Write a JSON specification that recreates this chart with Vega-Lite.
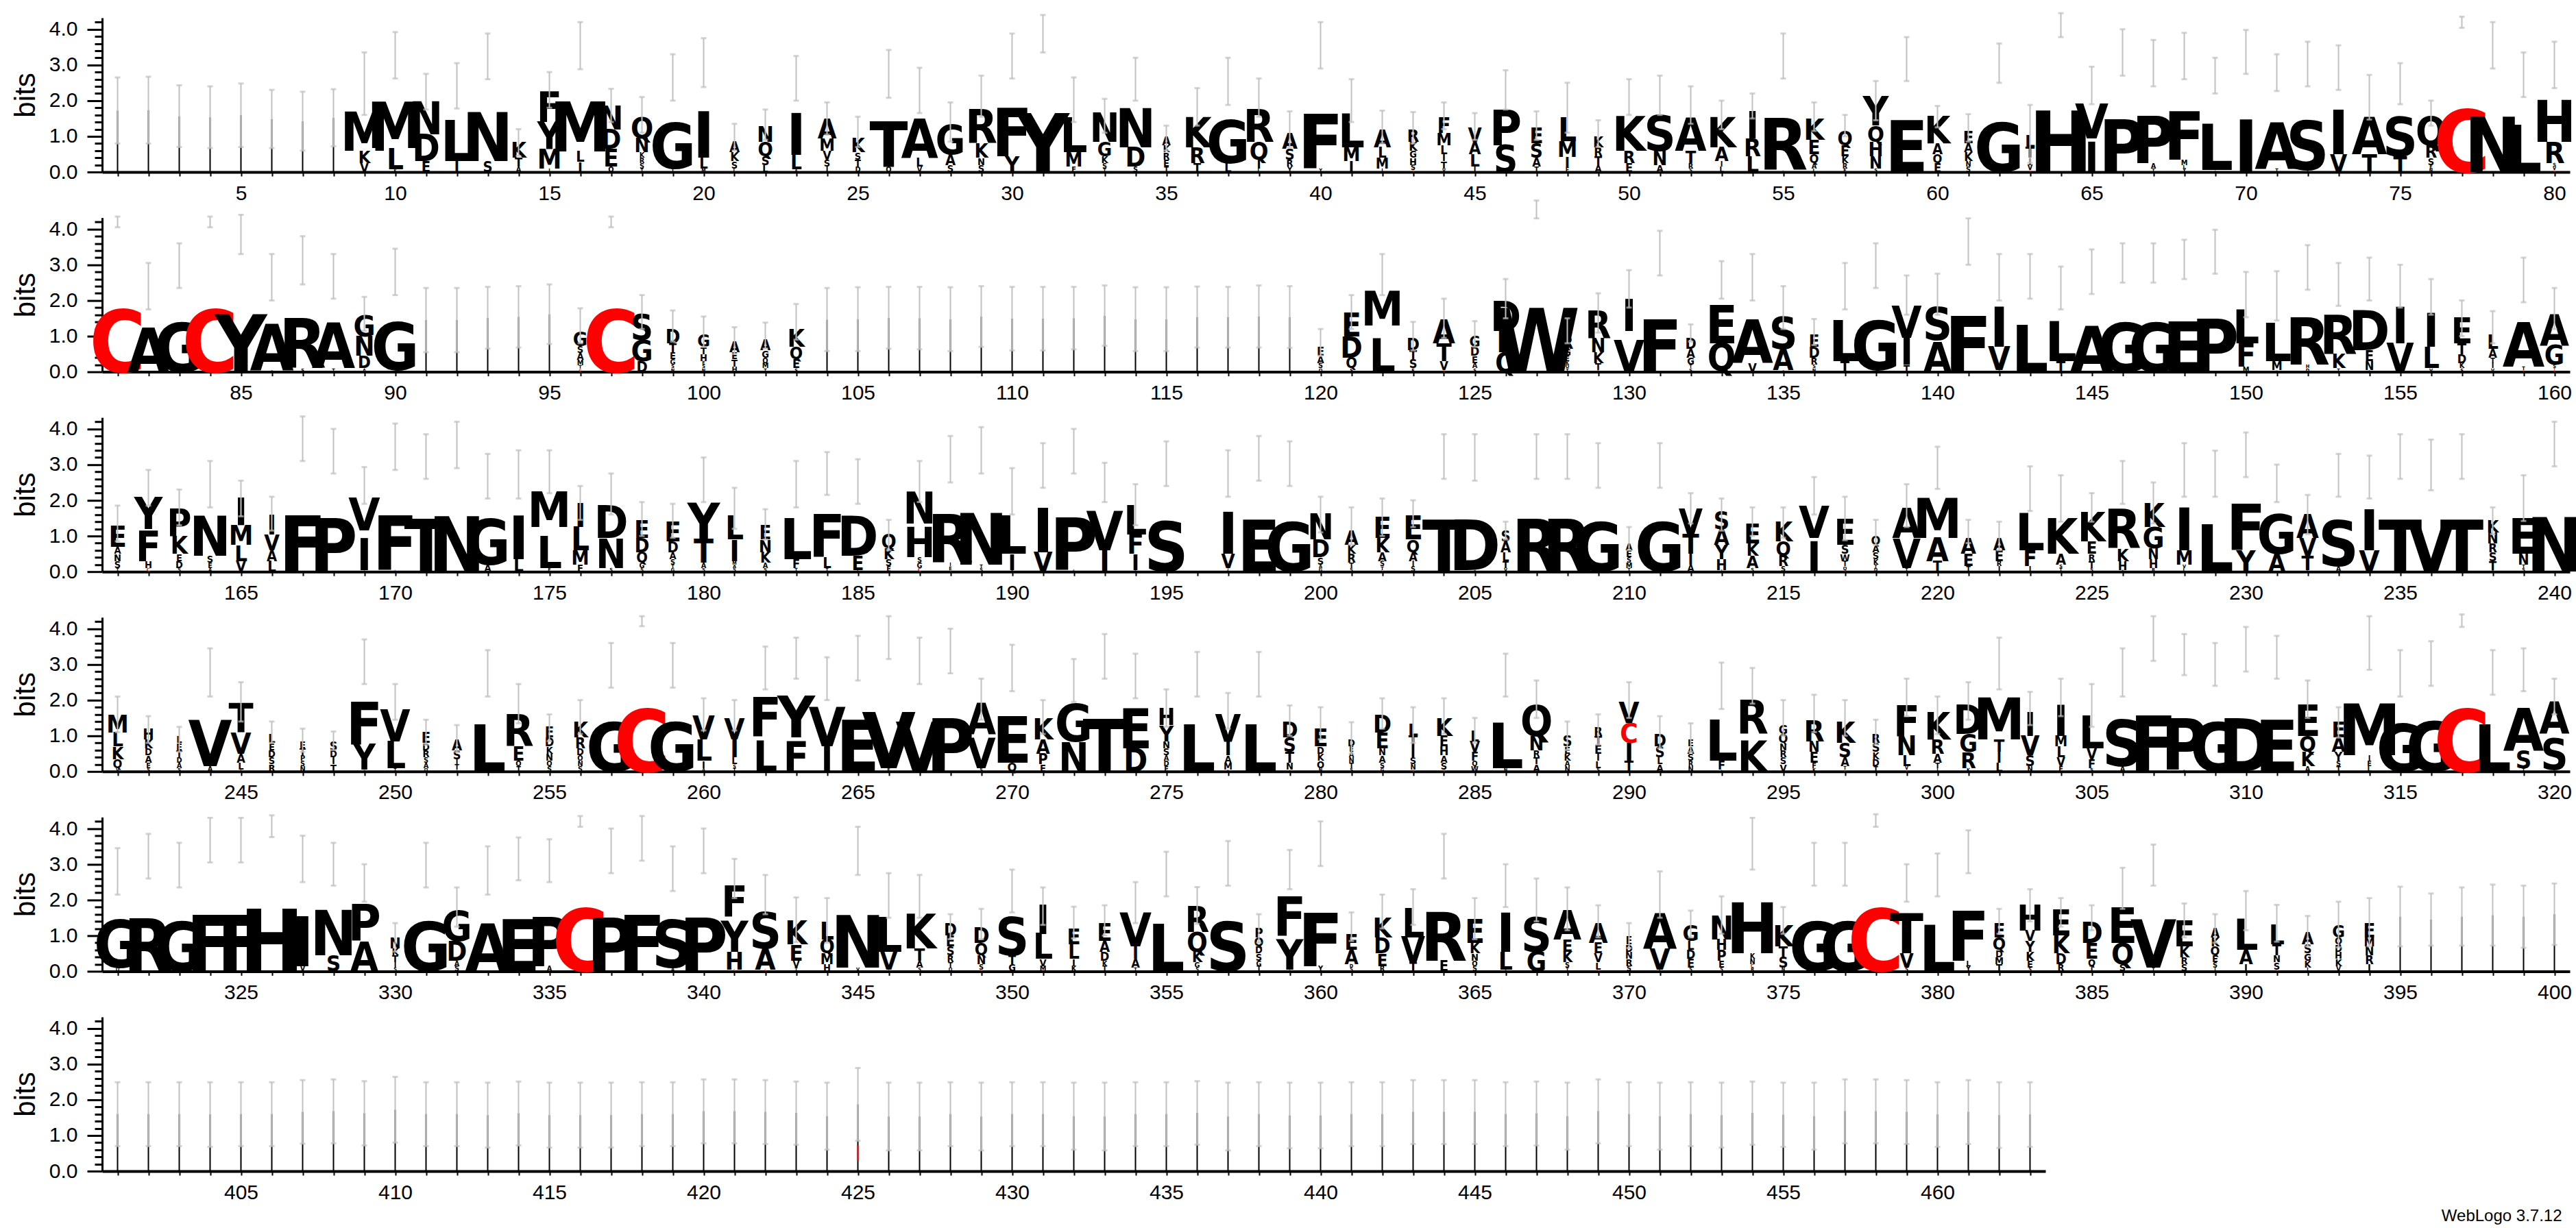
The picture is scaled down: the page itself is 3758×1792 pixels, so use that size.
{
"$schema": "https://vega.github.io/schema/vega-lite/v6.json",
"background": "white",
"padding": {"left": 16, "top": 17, "right": 5, "bottom": 5},
"config": {
  "view": {"stroke": null},
  "font": "Liberation Sans",
  "axis": {"labelColor": "black", "tickColor": "black", "domainColor": "black", "grid": false, "labelFontSize": 30, "labelFont": "Liberation Sans", "titleFont": "Liberation Sans", "titleColor": "black"},
  "axisX": {"tickSize": 6, "tickWidth": 2, "domainWidth": 4, "labelPadding": 10, "labelOverlap": false, "labelFlush": false, "labelBound": false},
  "axisY": {"titleFontSize": 42, "titleFontWeight": "normal", "titlePadding": 12, "labelPadding": 14, "tickWidth": 3, "domainWidth": 3, "labelOverlap": false}
},
"title": {"text": "WebLogo 3.7.12", "orient": "bottom", "anchor": "end", "dx": -30, "fontSize": 24, "fontWeight": "normal", "font": "Liberation Sans", "color": "black", "offset": 8},
"spacing": 66.6,
"bounds": "flush",
"datasets": {
"S": [
{"p":1,"h":1.72},{"p":2,"h":1.73},{"p":3,"h":1.56},{"p":4,"h":1.53},{"p":5,"h":1.59},{"p":6,"h":1.48},{"p":7,"h":1.42},{"p":8,"h":1.52},
{"p":91,"h":1.45},{"p":92,"h":1.45},{"p":93,"h":1.51},{"p":94,"h":1.54},{"p":95,"h":1.61},
{"p":104,"h":1.46},{"p":105,"h":1.47},{"p":106,"h":1.51},{"p":107,"h":1.5},{"p":108,"h":1.47},{"p":109,"h":1.55},{"p":110,"h":1.49},{"p":111,"h":1.49},{"p":112,"h":1.5},{"p":113,"h":1.57},{"p":114,"h":1.47},{"p":115,"h":1.47},{"p":116,"h":1.53},{"p":117,"h":1.53},{"p":118,"h":1.55},{"p":119,"h":1.53},
{"p":395,"h":1.53},{"p":396,"h":1.45},{"p":397,"h":1.53},{"p":398,"h":1.57},{"p":399,"h":1.53},{"p":400,"h":1.6},
{"p":401,"h":1.6},{"p":402,"h":1.6},{"p":403,"h":1.6},{"p":404,"h":1.59},{"p":405,"h":1.6},{"p":406,"h":1.6},{"p":407,"h":1.66},{"p":408,"h":1.68},{"p":409,"h":1.62},{"p":410,"h":1.72},
{"p":411,"h":1.6},{"p":412,"h":1.6},{"p":413,"h":1.57},{"p":414,"h":1.62},{"p":415,"h":1.57},{"p":416,"h":1.57},{"p":417,"h":1.57},{"p":418,"h":1.6},{"p":419,"h":1.6},{"p":420,"h":1.68},
{"p":421,"h":1.68},{"p":422,"h":1.66},{"p":423,"h":1.63},{"p":424,"h":1.54},{"p":425,"h":1.87},{"p":426,"h":1.53},{"p":427,"h":1.53},{"p":428,"h":1.6},{"p":429,"h":1.53},{"p":430,"h":1.6},
{"p":431,"h":1.6},{"p":432,"h":1.54},{"p":433,"h":1.53},{"p":434,"h":1.6},{"p":435,"h":1.6},{"p":436,"h":1.63},{"p":437,"h":1.53},{"p":438,"h":1.6},{"p":439,"h":1.56},{"p":440,"h":1.56},
{"p":441,"h":1.6},{"p":442,"h":1.6},{"p":443,"h":1.66},{"p":444,"h":1.66},{"p":445,"h":1.66},{"p":446,"h":1.6},{"p":447,"h":1.62},{"p":448,"h":1.54},{"p":449,"h":1.68},{"p":450,"h":1.6},
{"p":451,"h":1.54},{"p":452,"h":1.6},{"p":453,"h":1.57},{"p":454,"h":1.63},{"p":455,"h":1.58},{"p":456,"h":1.54},{"p":457,"h":1.68},{"p":458,"h":1.68},{"p":459,"h":1.66},{"p":460,"h":1.59},
{"p":461,"h":1.66},{"p":462,"h":1.57},{"p":463,"h":1.59}
],
"R": [{"p":425,"a":"C","lo":0.3,"hi":0.72}],
"E": [
{"p":1,"lo":0.8,"hi":2.65},{"p":2,"lo":0.8,"hi":2.67},{"p":3,"lo":0.7,"hi":2.43},{"p":4,"lo":0.67,"hi":2.4},{"p":5,"lo":0.7,"hi":2.48},{"p":6,"lo":0.67,"hi":2.3},{"p":7,"lo":0.6,"hi":2.25},{"p":8,"lo":0.72,"hi":2.32},
{"p":9,"lo":1.6,"hi":3.35},{"p":10,"lo":2.62,"hi":3.92},{"p":11,"lo":1.75,"hi":2.75},{"p":12,"lo":1.78,"hi":3.05},{"p":13,"lo":2.6,"hi":3.88},{"p":14,"lo":0.45,"hi":1.2},{"p":15,"lo":1.8,"hi":2.8},{"p":16,"lo":2.88,"hi":4.2},{"p":17,"lo":1.4,"hi":2.33},{"p":18,"lo":1.1,"hi":2.1},
{"p":19,"lo":2.0,"hi":3.3},{"p":20,"lo":2.38,"hi":3.75},{"p":21,"lo":0.6,"hi":1.35},{"p":22,"lo":0.9,"hi":1.75},{"p":23,"lo":2.0,"hi":3.25},{"p":24,"lo":1.05,"hi":1.95},{"p":25,"lo":0.7,"hi":1.55},{"p":26,"lo":2.08,"hi":3.42},{"p":27,"lo":1.65,"hi":2.92},{"p":28,"lo":0.85,"hi":1.95},
{"p":29,"lo":1.55,"hi":2.7},{"p":30,"lo":2.62,"hi":3.88},{"p":31,"lo":3.35,"hi":4.4},{"p":32,"lo":1.4,"hi":2.65},{"p":33,"lo":1.1,"hi":2.05},{"p":34,"lo":2.0,"hi":3.2},{"p":35,"lo":0.6,"hi":1.3},{"p":36,"lo":1.3,"hi":2.35},{"p":37,"lo":1.88,"hi":3.2},{"p":38,"lo":1.55,"hi":2.62},
{"p":39,"lo":0.7,"hi":1.7},{"p":40,"lo":2.9,"hi":4.2},{"p":41,"lo":1.4,"hi":2.6},{"p":42,"lo":0.8,"hi":1.72},{"p":43,"lo":0.8,"hi":1.68},{"p":44,"lo":1.2,"hi":1.95},{"p":45,"lo":0.9,"hi":1.65},{"p":46,"lo":1.75,"hi":2.85},{"p":47,"lo":0.9,"hi":1.7},{"p":48,"lo":1.1,"hi":2.5},
{"p":49,"lo":0.7,"hi":1.45},{"p":50,"lo":1.6,"hi":2.6},{"p":51,"lo":1.6,"hi":2.7},{"p":52,"lo":1.35,"hi":2.4},{"p":53,"lo":1.2,"hi":2.0},{"p":54,"lo":1.5,"hi":2.2},{"p":55,"lo":2.62,"hi":3.88},{"p":56,"lo":1.15,"hi":1.95},{"p":57,"lo":1.0,"hi":1.6},{"p":58,"lo":1.45,"hi":2.55},
{"p":59,"lo":2.55,"hi":3.78},{"p":60,"lo":1.25,"hi":1.85},{"p":61,"lo":0.85,"hi":1.62},{"p":62,"lo":2.5,"hi":3.6},{"p":63,"lo":0.25,"hi":1.88},{"p":64,"lo":3.78,"hi":4.45},{"p":65,"lo":1.9,"hi":2.95},{"p":66,"lo":2.7,"hi":4.0},{"p":67,"lo":2.4,"hi":3.7},{"p":68,"lo":2.6,"hi":3.9},
{"p":69,"lo":2.2,"hi":3.2},{"p":70,"lo":2.75,"hi":3.98},{"p":71,"lo":2.27,"hi":3.3},{"p":72,"lo":2.4,"hi":3.65},{"p":73,"lo":2.3,"hi":3.55},{"p":74,"lo":1.47,"hi":2.72},{"p":75,"lo":1.9,"hi":3.05},{"p":76,"lo":1.3,"hi":2.0},{"p":77,"lo":4.04,"hi":4.35},{"p":78,"lo":2.9,"hi":4.2},
{"p":79,"lo":2.1,"hi":3.35},{"p":80,"lo":2.35,"hi":3.65},
{"p":81,"lo":4.05,"hi":4.35},{"p":82,"lo":1.75,"hi":3.05},{"p":83,"lo":2.35,"hi":3.6},{"p":84,"lo":4.05,"hi":4.35},{"p":85,"lo":3.3,"hi":4.4},{"p":86,"lo":2.0,"hi":3.3},{"p":87,"lo":2.45,"hi":3.8},{"p":88,"lo":2.05,"hi":3.3},{"p":89,"lo":1.15,"hi":2.1},{"p":90,"lo":2.15,"hi":3.45},
{"p":91,"lo":0.55,"hi":2.35},{"p":92,"lo":0.55,"hi":2.35},{"p":93,"lo":0.65,"hi":2.38},{"p":94,"lo":0.68,"hi":2.4},{"p":95,"lo":0.78,"hi":2.45},{"p":96,"lo":0.8,"hi":1.78},{"p":97,"lo":4.05,"hi":4.35},{"p":98,"lo":1.2,"hi":2.15},{"p":99,"lo":0.85,"hi":1.72},{"p":100,"lo":0.7,"hi":1.55},
{"p":101,"lo":0.5,"hi":1.25},{"p":102,"lo":0.65,"hi":1.38},{"p":103,"lo":0.9,"hi":1.9},{"p":104,"lo":0.58,"hi":2.35},{"p":105,"lo":0.58,"hi":2.37},{"p":106,"lo":0.65,"hi":2.38},{"p":107,"lo":0.63,"hi":2.38},{"p":108,"lo":0.58,"hi":2.37},{"p":109,"lo":0.7,"hi":2.4},{"p":110,"lo":0.6,"hi":2.38},
{"p":111,"lo":0.6,"hi":2.38},{"p":112,"lo":0.63,"hi":2.38},{"p":113,"lo":0.73,"hi":2.42},{"p":114,"lo":0.58,"hi":2.37},{"p":115,"lo":0.58,"hi":2.37},{"p":116,"lo":0.68,"hi":2.39},{"p":117,"lo":0.68,"hi":2.38},{"p":118,"lo":0.68,"hi":2.42},{"p":119,"lo":0.67,"hi":2.4},{"p":120,"lo":0.45,"hi":1.2},
{"p":121,"lo":1.2,"hi":2.15},{"p":122,"lo":2.15,"hi":3.3},{"p":123,"lo":0.6,"hi":1.4},{"p":124,"lo":0.95,"hi":2.05},{"p":125,"lo":0.7,"hi":1.42},{"p":126,"lo":1.5,"hi":2.6},{"p":127,"lo":4.3,"hi":4.8},{"p":128,"lo":0.8,"hi":1.5},{"p":129,"lo":1.1,"hi":2.2},{"p":130,"lo":1.8,"hi":2.85},
{"p":131,"lo":2.7,"hi":3.95},{"p":132,"lo":0.85,"hi":1.33},{"p":133,"lo":2.05,"hi":3.1},{"p":134,"lo":2.0,"hi":3.3},{"p":135,"lo":1.2,"hi":2.4},{"p":136,"lo":0.75,"hi":1.48},{"p":137,"lo":1.75,"hi":3.05},{"p":138,"lo":2.35,"hi":3.6},{"p":139,"lo":1.6,"hi":2.7},{"p":140,"lo":1.6,"hi":2.75},
{"p":141,"lo":3.0,"hi":4.3},{"p":142,"lo":2.0,"hi":3.3},{"p":143,"lo":2.05,"hi":3.3},{"p":144,"lo":1.75,"hi":2.95},{"p":145,"lo":2.18,"hi":3.43},{"p":146,"lo":2.5,"hi":3.6},{"p":147,"lo":2.5,"hi":3.6},{"p":148,"lo":2.6,"hi":3.7},{"p":149,"lo":2.75,"hi":3.98},{"p":150,"lo":1.53,"hi":2.8},
{"p":151,"lo":1.44,"hi":2.82},{"p":152,"lo":2.3,"hi":3.55},{"p":153,"lo":1.85,"hi":3.05},{"p":154,"lo":2.0,"hi":3.2},{"p":155,"lo":1.8,"hi":3.0},{"p":156,"lo":1.6,"hi":2.6},{"p":157,"lo":1.0,"hi":2.0},{"p":158,"lo":0.8,"hi":1.7},{"p":159,"lo":1.95,"hi":3.2},{"p":160,"lo":1.2,"hi":2.35},
{"p":161,"lo":0.85,"hi":1.85},{"p":162,"lo":1.85,"hi":2.85},{"p":163,"lo":1.3,"hi":2.3},{"p":164,"lo":1.8,"hi":3.1},{"p":165,"lo":1.55,"hi":2.55},{"p":166,"lo":1.15,"hi":2.1},{"p":167,"lo":3.1,"hi":4.35},{"p":168,"lo":2.75,"hi":4.0},{"p":169,"lo":1.9,"hi":2.93},{"p":170,"lo":2.85,"hi":4.15},
{"p":171,"lo":2.6,"hi":3.85},{"p":172,"lo":2.9,"hi":4.2},{"p":173,"lo":2.05,"hi":3.3},{"p":174,"lo":2.05,"hi":3.4},{"p":175,"lo":2.2,"hi":3.4},{"p":176,"lo":1.45,"hi":2.4},{"p":177,"lo":1.6,"hi":2.75},{"p":178,"lo":1.0,"hi":1.95},{"p":179,"lo":0.95,"hi":1.9},{"p":180,"lo":1.95,"hi":3.2},
{"p":181,"lo":1.2,"hi":2.35},{"p":182,"lo":0.9,"hi":1.75},{"p":183,"lo":1.8,"hi":3.1},{"p":184,"lo":2.15,"hi":3.35},{"p":185,"lo":1.9,"hi":3.15},{"p":186,"lo":0.6,"hi":1.45},{"p":187,"lo":1.95,"hi":3.1},{"p":188,"lo":2.5,"hi":3.8},{"p":189,"lo":2.75,"hi":4.05},{"p":190,"lo":1.6,"hi":2.9},
{"p":191,"lo":2.35,"hi":3.6},{"p":192,"lo":2.75,"hi":4.0},{"p":193,"lo":1.95,"hi":3.05},{"p":194,"lo":1.3,"hi":2.45},{"p":195,"lo":2.4,"hi":3.65},{"p":197,"lo":2.1,"hi":3.4},{"p":198,"lo":2.55,"hi":3.8},{"p":199,"lo":2.4,"hi":3.65},{"p":200,"lo":1.1,"hi":2.1},
{"p":201,"lo":0.75,"hi":1.8},{"p":202,"lo":1.0,"hi":2.05},{"p":203,"lo":1.25,"hi":2.0},{"p":204,"lo":2.6,"hi":3.85},{"p":205,"lo":2.55,"hi":3.85},{"p":206,"lo":0.9,"hi":1.4},{"p":207,"lo":2.6,"hi":3.85},{"p":208,"lo":2.6,"hi":3.85},{"p":209,"lo":2.35,"hi":3.6},{"p":210,"lo":0.6,"hi":1.25},
{"p":211,"lo":2.35,"hi":3.6},{"p":212,"lo":1.35,"hi":2.2},{"p":213,"lo":1.15,"hi":2.05},{"p":214,"lo":1.0,"hi":1.8},{"p":215,"lo":0.95,"hi":1.8},{"p":216,"lo":1.6,"hi":2.65},{"p":217,"lo":0.88,"hi":2.1},{"p":218,"lo":0.75,"hi":1.45},{"p":219,"lo":1.25,"hi":2.45},{"p":220,"lo":2.32,"hi":3.5},
{"p":221,"lo":0.8,"hi":1.45},{"p":222,"lo":0.6,"hi":1.4},{"p":223,"lo":1.7,"hi":2.95},{"p":224,"lo":1.4,"hi":2.7},{"p":225,"lo":1.4,"hi":2.2},{"p":226,"lo":1.9,"hi":3.1},{"p":227,"lo":1.35,"hi":2.5},{"p":228,"lo":2.1,"hi":3.6},{"p":229,"lo":2.1,"hi":3.39},{"p":230,"lo":2.65,"hi":3.9},
{"p":231,"lo":1.95,"hi":3.0},{"p":232,"lo":1.05,"hi":2.15},{"p":233,"lo":2.1,"hi":3.3},{"p":234,"lo":2.05,"hi":3.25},{"p":235,"lo":2.6,"hi":3.85},{"p":236,"lo":2.28,"hi":3.7},{"p":237,"lo":2.6,"hi":3.85},{"p":238,"lo":1.05,"hi":1.8},{"p":239,"lo":1.42,"hi":2.7},{"p":240,"lo":2.95,"hi":4.2},
{"p":241,"lo":1.1,"hi":2.1},{"p":242,"lo":0.8,"hi":1.55},{"p":243,"lo":0.55,"hi":1.25},{"p":244,"lo":2.1,"hi":3.45},{"p":245,"lo":1.4,"hi":2.5},{"p":246,"lo":0.8,"hi":1.4},{"p":247,"lo":0.55,"hi":1.2},{"p":248,"lo":0.6,"hi":1.12},{"p":249,"lo":2.45,"hi":3.7},{"p":250,"lo":1.45,"hi":2.45},
{"p":251,"lo":0.75,"hi":1.45},{"p":252,"lo":0.55,"hi":1.3},{"p":253,"lo":2.1,"hi":3.4},{"p":254,"lo":1.35,"hi":2.45},{"p":255,"lo":0.85,"hi":1.6},{"p":256,"lo":1.05,"hi":2.0},{"p":257,"lo":2.35,"hi":3.6},{"p":258,"lo":4.07,"hi":4.35},{"p":259,"lo":2.35,"hi":3.6},{"p":260,"lo":1.15,"hi":2.05},
{"p":261,"lo":1.15,"hi":2.0},{"p":262,"lo":2.3,"hi":3.5},{"p":263,"lo":2.6,"hi":3.75},{"p":264,"lo":2.0,"hi":3.2},{"p":265,"lo":2.55,"hi":3.8},{"p":266,"lo":3.15,"hi":4.35},{"p":267,"lo":2.45,"hi":3.75},{"p":268,"lo":2.75,"hi":4.0},{"p":269,"lo":1.45,"hi":2.6},{"p":270,"lo":2.25,"hi":3.55},
{"p":271,"lo":1.05,"hi":2.0},{"p":272,"lo":1.95,"hi":3.15},{"p":273,"lo":2.6,"hi":3.85},{"p":274,"lo":2.05,"hi":3.3},{"p":275,"lo":1.25,"hi":2.3},{"p":276,"lo":2.1,"hi":3.35},{"p":277,"lo":1.2,"hi":2.2},{"p":278,"lo":2.1,"hi":3.35},{"p":279,"lo":1.0,"hi":1.85},{"p":280,"lo":0.9,"hi":1.8},
{"p":281,"lo":0.5,"hi":1.38},{"p":282,"lo":1.2,"hi":2.05},{"p":283,"lo":0.8,"hi":1.8},{"p":284,"lo":1.05,"hi":2.05},{"p":285,"lo":0.8,"hi":1.5},{"p":286,"lo":2.1,"hi":3.3},{"p":287,"lo":1.5,"hi":2.55},{"p":288,"lo":0.6,"hi":1.4},{"p":289,"lo":0.75,"hi":1.6},{"p":290,"lo":1.5,"hi":2.5},
{"p":291,"lo":0.65,"hi":1.55},{"p":292,"lo":0.55,"hi":1.35},{"p":293,"lo":1.75,"hi":3.05},{"p":294,"lo":1.9,"hi":2.9},{"p":295,"lo":1.0,"hi":2.0},{"p":296,"lo":1.1,"hi":2.15},{"p":297,"lo":1.0,"hi":2.0},{"p":298,"lo":0.75,"hi":1.45},{"p":299,"lo":1.55,"hi":2.6},{"p":300,"lo":1.05,"hi":2.1},
{"p":301,"lo":1.45,"hi":2.5},{"p":302,"lo":2.3,"hi":3.75},{"p":303,"lo":1.3,"hi":2.23},{"p":304,"lo":1.55,"hi":2.6},{"p":305,"lo":1.25,"hi":2.45},{"p":306,"lo":2.1,"hi":3.45},{"p":307,"lo":3.1,"hi":4.35},{"p":308,"lo":2.7,"hi":3.85},{"p":309,"lo":2.4,"hi":3.6},{"p":310,"lo":2.8,"hi":4.05},
{"p":311,"lo":2.6,"hi":3.8},{"p":312,"lo":1.5,"hi":2.55},{"p":313,"lo":0.95,"hi":1.8},{"p":314,"lo":2.85,"hi":4.35},{"p":315,"lo":2.1,"hi":3.4},{"p":316,"lo":2.4,"hi":3.65},{"p":317,"lo":4.05,"hi":4.4},{"p":318,"lo":2.15,"hi":3.4},{"p":319,"lo":2.25,"hi":3.45},{"p":320,"lo":1.6,"hi":2.6},
{"p":321,"lo":2.15,"hi":3.45},{"p":322,"lo":2.6,"hi":3.85},{"p":323,"lo":2.35,"hi":3.6},{"p":324,"lo":3.05,"hi":4.3},{"p":325,"lo":3.05,"hi":4.3},{"p":326,"lo":3.76,"hi":4.37},{"p":327,"lo":2.5,"hi":3.8},{"p":328,"lo":2.4,"hi":3.6},{"p":329,"lo":1.95,"hi":3.0},{"p":330,"lo":0.55,"hi":1.35},
{"p":331,"lo":2.35,"hi":3.6},{"p":332,"lo":1.25,"hi":2.35},{"p":333,"lo":2.15,"hi":3.5},{"p":334,"lo":2.55,"hi":3.75},{"p":335,"lo":2.5,"hi":3.7},{"p":336,"lo":4.05,"hi":4.35},{"p":337,"lo":2.75,"hi":4.0},{"p":338,"lo":3.1,"hi":4.35},{"p":339,"lo":2.25,"hi":3.5},{"p":340,"lo":2.75,"hi":4.0},
{"p":341,"lo":2.05,"hi":3.15},{"p":342,"lo":1.6,"hi":2.7},{"p":343,"lo":0.82,"hi":2.07},{"p":344,"lo":0.8,"hi":2.05},{"p":345,"lo":2.7,"hi":4.05},{"p":346,"lo":1.5,"hi":2.75},{"p":347,"lo":1.5,"hi":2.7},{"p":348,"lo":0.9,"hi":1.6},{"p":349,"lo":0.9,"hi":1.75},{"p":350,"lo":1.65,"hi":2.85},
{"p":351,"lo":1.3,"hi":2.35},{"p":352,"lo":0.92,"hi":1.81},{"p":353,"lo":1.0,"hi":1.85},{"p":354,"lo":1.35,"hi":2.5},{"p":355,"lo":2.1,"hi":3.35},{"p":356,"lo":1.33,"hi":2.36},{"p":357,"lo":2.4,"hi":3.65},{"p":358,"lo":0.8,"hi":1.6},{"p":359,"lo":2.3,"hi":3.4},{"p":360,"lo":2.95,"hi":4.2},
{"p":361,"lo":0.85,"hi":1.65},{"p":362,"lo":1.2,"hi":2.15},{"p":363,"lo":1.3,"hi":2.3},{"p":364,"lo":2.6,"hi":3.85},{"p":365,"lo":0.9,"hi":2.05},{"p":366,"lo":1.8,"hi":3.0},{"p":367,"lo":1.4,"hi":2.6},{"p":368,"lo":1.15,"hi":2.35},{"p":369,"lo":0.95,"hi":1.85},{"p":370,"lo":0.65,"hi":1.35},
{"p":371,"lo":1.5,"hi":2.8},{"p":372,"lo":0.95,"hi":1.7},{"p":373,"lo":1.05,"hi":2.1},{"p":374,"lo":2.85,"hi":4.3},{"p":375,"lo":1.05,"hi":1.8},{"p":376,"lo":2.4,"hi":3.6},{"p":377,"lo":2.4,"hi":3.6},{"p":378,"lo":4.05,"hi":4.4},{"p":379,"lo":1.95,"hi":3.0},{"p":380,"lo":2.1,"hi":3.3},
{"p":381,"lo":2.75,"hi":3.95},{"p":382,"lo":1.05,"hi":1.75},{"p":383,"lo":1.4,"hi":2.3},{"p":384,"lo":1.25,"hi":2.05},{"p":385,"lo":1.15,"hi":1.85},{"p":386,"lo":1.75,"hi":2.9},{"p":387,"lo":2.4,"hi":3.55},{"p":388,"lo":0.95,"hi":1.9},{"p":389,"lo":0.8,"hi":1.6},{"p":390,"lo":1.15,"hi":2.25},
{"p":391,"lo":0.83,"hi":1.86},{"p":392,"lo":0.7,"hi":1.55},{"p":393,"lo":0.67,"hi":1.95},{"p":394,"lo":0.7,"hi":2.05},{"p":395,"lo":0.7,"hi":2.37},{"p":396,"lo":0.72,"hi":2.18},{"p":397,"lo":0.72,"hi":2.35},{"p":398,"lo":0.72,"hi":2.43},{"p":399,"lo":0.66,"hi":2.4},{"p":400,"lo":0.74,"hi":2.46},
{"p":401,"lo":0.7,"hi":2.49},{"p":402,"lo":0.7,"hi":2.49},{"p":403,"lo":0.7,"hi":2.49},{"p":404,"lo":0.68,"hi":2.49},{"p":405,"lo":0.7,"hi":2.49},{"p":406,"lo":0.7,"hi":2.49},{"p":407,"lo":0.77,"hi":2.55},{"p":408,"lo":0.78,"hi":2.57},{"p":409,"lo":0.72,"hi":2.52},{"p":410,"lo":0.8,"hi":2.64},
{"p":411,"lo":0.7,"hi":2.49},{"p":412,"lo":0.7,"hi":2.49},{"p":413,"lo":0.66,"hi":2.48},{"p":414,"lo":0.72,"hi":2.51},{"p":415,"lo":0.66,"hi":2.48},{"p":416,"lo":0.66,"hi":2.48},{"p":417,"lo":0.66,"hi":2.48},{"p":418,"lo":0.7,"hi":2.49},{"p":419,"lo":0.7,"hi":2.49},{"p":420,"lo":0.78,"hi":2.57},
{"p":421,"lo":0.78,"hi":2.57},{"p":422,"lo":0.76,"hi":2.55},{"p":423,"lo":0.74,"hi":2.51},{"p":424,"lo":0.6,"hi":2.48},{"p":425,"lo":0.85,"hi":2.89},{"p":426,"lo":0.58,"hi":2.48},{"p":427,"lo":0.58,"hi":2.48},{"p":428,"lo":0.7,"hi":2.49},{"p":429,"lo":0.58,"hi":2.48},{"p":430,"lo":0.7,"hi":2.49},
{"p":431,"lo":0.7,"hi":2.49},{"p":432,"lo":0.6,"hi":2.48},{"p":433,"lo":0.58,"hi":2.48},{"p":434,"lo":0.7,"hi":2.49},{"p":435,"lo":0.7,"hi":2.49},{"p":436,"lo":0.74,"hi":2.52},{"p":437,"lo":0.58,"hi":2.48},{"p":438,"lo":0.7,"hi":2.49},{"p":439,"lo":0.64,"hi":2.48},{"p":440,"lo":0.64,"hi":2.48},
{"p":441,"lo":0.7,"hi":2.49},{"p":442,"lo":0.7,"hi":2.49},{"p":443,"lo":0.76,"hi":2.55},{"p":444,"lo":0.76,"hi":2.55},{"p":445,"lo":0.76,"hi":2.55},{"p":446,"lo":0.7,"hi":2.49},{"p":447,"lo":0.72,"hi":2.51},{"p":448,"lo":0.6,"hi":2.48},{"p":449,"lo":0.78,"hi":2.57},{"p":450,"lo":0.7,"hi":2.49},
{"p":451,"lo":0.6,"hi":2.48},{"p":452,"lo":0.7,"hi":2.49},{"p":453,"lo":0.66,"hi":2.48},{"p":454,"lo":0.74,"hi":2.51},{"p":455,"lo":0.68,"hi":2.48},{"p":456,"lo":0.6,"hi":2.48},{"p":457,"lo":0.78,"hi":2.57},{"p":458,"lo":0.78,"hi":2.57},{"p":459,"lo":0.76,"hi":2.55},{"p":460,"lo":0.68,"hi":2.49},
{"p":461,"lo":0.76,"hi":2.55},{"p":462,"lo":0.65,"hi":2.49},{"p":463,"lo":0.68,"hi":2.49}
],
"L": [
{"p":9,"a":"V","b":0.25},{"p":9,"a":"K","b":0.35},{"p":9,"a":"M","b":1.85},
{"p":10,"a":"K","b":0.08},{"p":10,"a":"L","b":0.6},{"p":10,"a":"M","b":2.6},
{"p":11,"a":"E","b":0.3},{"p":11,"a":"D","b":0.75},{"p":11,"a":"N","b":1.2},
{"p":12,"a":"I","b":0.3},{"p":12,"a":"L","b":2.1},
{"p":13,"a":"S","b":0.3},{"p":13,"a":"N","b":2.95},
{"p":14,"a":"A","b":0.15},{"p":14,"a":"T","b":0.25},{"p":14,"a":"K","b":0.45},
{"p":15,"a":"I","b":0.1},{"p":15,"a":"M","b":0.55},{"p":15,"a":"Y","b":0.75},{"p":15,"a":"F","b":0.9},
{"p":16,"a":"L","b":0.3},{"p":16,"a":"I","b":0.28},{"p":16,"a":"M","b":3.0},
{"p":17,"a":"Q","b":0.15},{"p":17,"a":"E","b":0.5},{"p":17,"a":"D","b":0.55},{"p":17,"a":"N","b":0.65},
{"p":18,"a":"T","b":0.1},{"p":18,"a":"S","b":0.15},{"p":18,"a":"R","b":0.15},{"p":18,"a":"K","b":0.15},{"p":18,"a":"N","b":0.4},{"p":18,"a":"Q","b":0.6},
{"p":19,"a":"T","b":0.1},{"p":19,"a":"G","b":2.55},
{"p":20,"a":"M","b":0.1},{"p":20,"a":"L","b":0.3},{"p":20,"a":"I","b":2.65},
{"p":21,"a":"L","b":0.1},{"p":21,"a":"S","b":0.2},{"p":21,"a":"K","b":0.25},{"p":21,"a":"A","b":0.3},
{"p":22,"a":"L","b":0.2},{"p":22,"a":"S","b":0.25},{"p":22,"a":"Q","b":0.4},{"p":22,"a":"N","b":0.45},
{"p":23,"a":"A","b":0.08},{"p":23,"a":"L","b":0.4},{"p":23,"a":"I","b":2.12},
{"p":24,"a":"I","b":0.15},{"p":24,"a":"V","b":0.25},{"p":24,"a":"S","b":0.2},{"p":24,"a":"M","b":0.35},{"p":24,"a":"A","b":0.55},
{"p":25,"a":"T","b":0.2},{"p":25,"a":"S","b":0.2},{"p":25,"a":"D","b":0.15},{"p":25,"a":"K","b":0.4},
{"p":26,"a":"Q","b":0.15},{"p":26,"a":"T","b":2.55},
{"p":27,"a":"V","b":0.15},{"p":27,"a":"L","b":0.25},{"p":27,"a":"A","b":1.85},
{"p":28,"a":"S","b":0.2},{"p":28,"a":"A","b":0.3},{"p":28,"a":"G","b":0.85},
{"p":29,"a":"S","b":0.2},{"p":29,"a":"N","b":0.2},{"p":29,"a":"K","b":0.4},{"p":29,"a":"R","b":1.3},
{"p":30,"a":"Y","b":0.45},{"p":30,"a":"F","b":2.8},
{"p":31,"a":"Y","b":3.95},
{"p":32,"a":"F","b":0.15},{"p":32,"a":"M","b":0.4},{"p":32,"a":"L","b":1.45},
{"p":33,"a":"T","b":0.1},{"p":33,"a":"S","b":0.15},{"p":33,"a":"K","b":0.2},{"p":33,"a":"G","b":0.4},{"p":33,"a":"N","b":0.8},
{"p":34,"a":"S","b":0.15},{"p":34,"a":"D","b":0.55},{"p":34,"a":"N","b":1.85},
{"p":35,"a":"T","b":0.15},{"p":35,"a":"E","b":0.2},{"p":35,"a":"R","b":0.2},{"p":35,"a":"K","b":0.2},{"p":35,"a":"A","b":0.25},
{"p":36,"a":"T","b":0.25},{"p":36,"a":"R","b":0.45},{"p":36,"a":"K","b":0.95},
{"p":37,"a":"L","b":0.25},{"p":37,"a":"G","b":2.3},
{"p":38,"a":"L","b":0.1},{"p":38,"a":"I","b":0.25},{"p":38,"a":"Q","b":0.5},{"p":38,"a":"R","b":1.2},
{"p":39,"a":"Y","b":0.15},{"p":39,"a":"R","b":0.2},{"p":39,"a":"S","b":0.3},{"p":39,"a":"A","b":0.45},
{"p":40,"a":"Y","b":0.1},{"p":40,"a":"F","b":3.45},
{"p":41,"a":"I","b":0.3},{"p":41,"a":"M","b":0.4},{"p":41,"a":"L","b":1.3},
{"p":42,"a":"I","b":0.1},{"p":42,"a":"M","b":0.3},{"p":42,"a":"L","b":0.3},{"p":42,"a":"A","b":0.5},
{"p":43,"a":"C","b":0.05},{"p":43,"a":"H","b":0.2},{"p":43,"a":"S","b":0.15},{"p":43,"a":"G","b":0.2},{"p":43,"a":"K","b":0.25},{"p":43,"a":"R","b":0.35},
{"p":44,"a":"V","b":0.1},{"p":44,"a":"T","b":0.2},{"p":44,"a":"L","b":0.25},{"p":44,"a":"M","b":0.35},{"p":44,"a":"I","b":0.2},{"p":44,"a":"F","b":0.45},
{"p":45,"a":"I","b":0.15},{"p":45,"a":"L","b":0.35},{"p":45,"a":"V","b":0.4},{"p":45,"a":"A","b":0.35},
{"p":46,"a":"S","b":0.75},{"p":46,"a":"P","b":1.5},
{"p":47,"a":"T","b":0.15},{"p":47,"a":"A","b":0.25},{"p":47,"a":"S","b":0.4},{"p":47,"a":"E","b":0.45},
{"p":48,"a":"F","b":0.12},{"p":48,"a":"I","b":0.3},{"p":48,"a":"M","b":0.45},{"p":48,"a":"L","b":0.65},
{"p":49,"a":"T","b":0.25},{"p":49,"a":"R","b":0.25},{"p":49,"a":"A","b":0.2},{"p":49,"a":"K","b":0.3},
{"p":50,"a":"E","b":0.25},{"p":50,"a":"R","b":0.35},{"p":50,"a":"K","b":1.45},
{"p":51,"a":"A","b":0.2},{"p":51,"a":"N","b":0.4},{"p":51,"a":"S","b":1.5},
{"p":52,"a":"S","b":0.1},{"p":52,"a":"R","b":0.15},{"p":52,"a":"T","b":0.35},{"p":52,"a":"A","b":1.25},
{"p":53,"a":"L","b":0.15},{"p":53,"a":"I","b":0.15},{"p":53,"a":"A","b":0.4},{"p":53,"a":"K","b":0.95},
{"p":54,"a":"L","b":0.45},{"p":54,"a":"R","b":0.5},{"p":54,"a":"I","b":0.75},
{"p":55,"a":"L","b":0.05},{"p":55,"a":"R","b":3.2},
{"p":56,"a":"L","b":0.1},{"p":56,"a":"A","b":0.15},{"p":56,"a":"Q","b":0.25},{"p":56,"a":"E","b":0.4},{"p":56,"a":"K","b":0.6},
{"p":57,"a":"F","b":0.1},{"p":57,"a":"K","b":0.2},{"p":57,"a":"R","b":0.15},{"p":57,"a":"E","b":0.3},{"p":57,"a":"Q","b":0.4},
{"p":58,"a":"S","b":0.1},{"p":58,"a":"N","b":0.35},{"p":58,"a":"H","b":0.4},{"p":58,"a":"Q","b":0.45},{"p":58,"a":"Y","b":0.8},
{"p":59,"a":"E","b":3.15},
{"p":60,"a":"E","b":0.25},{"p":60,"a":"Q","b":0.25},{"p":60,"a":"A","b":0.3},{"p":60,"a":"K","b":0.75},
{"p":61,"a":"S","b":0.15},{"p":61,"a":"N","b":0.15},{"p":61,"a":"K","b":0.25},{"p":61,"a":"A","b":0.25},{"p":61,"a":"E","b":0.35},
{"p":62,"a":"G","b":2.95},
{"p":63,"a":"C","b":0.05},{"p":63,"a":"V","b":0.15},{"p":63,"a":"I","b":0.2},{"p":63,"a":"T","b":0.3},{"p":63,"a":"L","b":0.35},
{"p":64,"a":"H","b":4.25},
{"p":65,"a":"I","b":0.95},{"p":65,"a":"V","b":1.45},
{"p":66,"a":"P","b":3.3},
{"p":67,"a":"T","b":0.1},{"p":67,"a":"A","b":0.15},{"p":67,"a":"P","b":2.75},
{"p":68,"a":"Y","b":0.1},{"p":68,"a":"M","b":0.15},{"p":68,"a":"L","b":0.1},{"p":68,"a":"F","b":2.85},
{"p":69,"a":"I","b":0.05},{"p":69,"a":"L","b":2.6},
{"p":70,"a":"I","b":3.3},
{"p":71,"a":"T","b":0.1},{"p":71,"a":"A","b":2.65},
{"p":72,"a":"V","b":0.05},{"p":72,"a":"S","b":2.9},
{"p":73,"a":"V","b":0.5},{"p":73,"a":"I","b":2.45},
{"p":74,"a":"T","b":0.5},{"p":74,"a":"A","b":1.65},
{"p":75,"a":"T","b":0.45},{"p":75,"a":"S","b":1.9},
{"p":76,"a":"N","b":0.1},{"p":76,"a":"E","b":0.1},{"p":76,"a":"S","b":0.2},{"p":76,"a":"R","b":0.35},{"p":76,"a":"Q","b":0.85},
{"p":77,"a":"C","b":4.3},
{"p":78,"a":"N","b":3.55},
{"p":79,"a":"L","b":2.7},
{"p":80,"a":"V","b":0.1},{"p":80,"a":"C","b":0.05},{"p":80,"a":"S","b":0.1},{"p":80,"a":"R","b":0.6},{"p":80,"a":"H","b":2.15},
{"p":81,"a":"C","b":4.3},
{"p":82,"a":"A","b":2.4},
{"p":83,"a":"G","b":2.95},
{"p":84,"a":"C","b":4.3},
{"p":85,"a":"Y","b":3.9},
{"p":86,"a":"T","b":0.05},{"p":86,"a":"A","b":2.6},
{"p":87,"a":"S","b":0.1},{"p":87,"a":"R","b":3.0},
{"p":88,"a":"T","b":0.1},{"p":88,"a":"A","b":2.55},
{"p":89,"a":"A","b":0.1},{"p":89,"a":"D","b":0.35},{"p":89,"a":"N","b":0.55},{"p":89,"a":"G","b":0.6},
{"p":90,"a":"S","b":0.05},{"p":90,"a":"G","b":2.75},
{"p":96,"a":"T","b":0.1},{"p":96,"a":"C","b":0.08},{"p":96,"a":"M","b":0.15},{"p":96,"a":"A","b":0.2},{"p":96,"a":"S","b":0.2},{"p":96,"a":"G","b":0.4},
{"p":97,"a":"C","b":4.3},
{"p":98,"a":"D","b":0.3},{"p":98,"a":"G","b":0.6},{"p":98,"a":"S","b":0.7},
{"p":99,"a":"N","b":0.1},{"p":99,"a":"S","b":0.1},{"p":99,"a":"G","b":0.15},{"p":99,"a":"E","b":0.2},{"p":99,"a":"T","b":0.25},{"p":99,"a":"D","b":0.4},
{"p":100,"a":"N","b":0.1},{"p":100,"a":"S","b":0.1},{"p":100,"a":"E","b":0.1},{"p":100,"a":"H","b":0.2},{"p":100,"a":"T","b":0.2},{"p":100,"a":"G","b":0.35},
{"p":101,"a":"T","b":0.2},{"p":101,"a":"H","b":0.15},{"p":101,"a":"E","b":0.2},{"p":101,"a":"A","b":0.3},
{"p":102,"a":"M","b":0.15},{"p":102,"a":"Q","b":0.15},{"p":102,"a":"T","b":0.1},{"p":102,"a":"G","b":0.2},{"p":102,"a":"A","b":0.3},
{"p":103,"a":"S","b":0.1},{"p":103,"a":"E","b":0.25},{"p":103,"a":"Q","b":0.35},{"p":103,"a":"K","b":0.5},
{"p":120,"a":"Q","b":0.1},{"p":120,"a":"S","b":0.15},{"p":120,"a":"A","b":0.2},{"p":120,"a":"E","b":0.25},
{"p":121,"a":"S","b":0.1},{"p":121,"a":"Q","b":0.3},{"p":121,"a":"D","b":0.6},{"p":121,"a":"E","b":0.65},
{"p":122,"a":"L","b":1.3},{"p":122,"a":"M","b":1.4},
{"p":123,"a":"E","b":0.1},{"p":123,"a":"S","b":0.25},{"p":123,"a":"T","b":0.25},{"p":123,"a":"D","b":0.35},
{"p":124,"a":"C","b":0.05},{"p":124,"a":"V","b":0.25},{"p":124,"a":"T","b":0.5},{"p":124,"a":"A","b":0.65},
{"p":125,"a":"S","b":0.1},{"p":125,"a":"A","b":0.15},{"p":125,"a":"E","b":0.2},{"p":125,"a":"D","b":0.25},{"p":125,"a":"G","b":0.3},
{"p":126,"a":"E","b":0.6},{"p":126,"a":"Q","b":0.55},{"p":126,"a":"D","b":0.9},
{"p":127,"a":"W","b":4.55},
{"p":128,"a":"T","b":0.1},{"p":128,"a":"O","b":0.1},{"p":128,"a":"K","b":0.1},{"p":128,"a":"E","b":0.15},{"p":128,"a":"G","b":0.2},{"p":128,"a":"R","b":0.35},
{"p":129,"a":"S","b":0.05},{"p":129,"a":"T","b":0.2},{"p":129,"a":"K","b":0.3},{"p":129,"a":"N","b":0.4},{"p":129,"a":"R","b":0.75},
{"p":130,"a":"V","b":1.15},{"p":130,"a":"I","b":1.15},
{"p":131,"a":"F","b":3.3},
{"p":132,"a":"S","b":0.1},{"p":132,"a":"T","b":0.1},{"p":132,"a":"G","b":0.2},{"p":132,"a":"A","b":0.25},{"p":132,"a":"D","b":0.3},
{"p":133,"a":"V","b":0.05},{"p":133,"a":"Q","b":0.75},{"p":133,"a":"E","b":1.75},
{"p":134,"a":"V","b":0.25},{"p":134,"a":"A","b":2.35},
{"p":135,"a":"T","b":0.05},{"p":135,"a":"A","b":0.6},{"p":135,"a":"S","b":1.1},
{"p":136,"a":"N","b":0.1},{"p":136,"a":"S","b":0.1},{"p":136,"a":"R","b":0.2},{"p":136,"a":"D","b":0.3},{"p":136,"a":"E","b":0.35},
{"p":137,"a":"T","b":0.3},{"p":137,"a":"L","b":2.05},
{"p":138,"a":"T","b":0.05},{"p":138,"a":"G","b":2.9},
{"p":139,"a":"T","b":0.2},{"p":139,"a":"I","b":0.75},{"p":139,"a":"V","b":1.1},
{"p":140,"a":"A","b":0.9},{"p":140,"a":"S","b":1.25},
{"p":141,"a":"F","b":3.65},
{"p":142,"a":"T","b":0.05},{"p":142,"a":"V","b":0.65},{"p":142,"a":"I","b":1.95},
{"p":143,"a":"L","b":2.7},
{"p":144,"a":"T","b":0.3},{"p":144,"a":"L","b":2.0},
{"p":145,"a":"A","b":2.6},
{"p":146,"a":"G","b":2.95},
{"p":147,"a":"G","b":2.95},
{"p":148,"a":"E","b":3.1},
{"p":149,"a":"P","b":3.35},
{"p":150,"a":"M","b":0.15},{"p":150,"a":"F","b":0.65},{"p":150,"a":"L","b":1.35},
{"p":151,"a":"N","b":0.05},{"p":151,"a":"M","b":0.25},{"p":151,"a":"L","b":1.8},
{"p":152,"a":"D","b":0.1},{"p":152,"a":"H","b":0.1},{"p":152,"a":"R","b":2.7},
{"p":153,"a":"T","b":0.1},{"p":153,"a":"K","b":0.4},{"p":153,"a":"R","b":1.9},
{"p":154,"a":"S","b":0.05},{"p":154,"a":"N","b":0.25},{"p":154,"a":"E","b":0.3},{"p":154,"a":"D","b":2.0},
{"p":155,"a":"V","b":0.8},{"p":155,"a":"I","b":1.55},
{"p":156,"a":"V","b":0.1},{"p":156,"a":"L","b":0.6},{"p":156,"a":"I","b":1.3},
{"p":157,"a":"S","b":0.1},{"p":157,"a":"K","b":0.15},{"p":157,"a":"D","b":0.25},{"p":157,"a":"T","b":0.3},{"p":157,"a":"E","b":0.7},
{"p":158,"a":"V","b":0.1},{"p":158,"a":"I","b":0.15},{"p":158,"a":"T","b":0.15},{"p":158,"a":"A","b":0.25},{"p":158,"a":"L","b":0.4},
{"p":159,"a":"C","b":0.05},{"p":159,"a":"T","b":0.1},{"p":159,"a":"A","b":2.4},
{"p":160,"a":"C","b":0.05},{"p":160,"a":"T","b":0.05},{"p":160,"a":"S","b":0.1},{"p":160,"a":"G","b":0.55},{"p":160,"a":"A","b":1.0},
{"p":161,"a":"T","b":0.1},{"p":161,"a":"S","b":0.2},{"p":161,"a":"N","b":0.2},{"p":161,"a":"A","b":0.2},{"p":161,"a":"E","b":0.6},
{"p":162,"a":"C","b":0.1},{"p":162,"a":"H","b":0.2},{"p":162,"a":"Y","b":1.1},{"p":162,"a":"F","b":0.9},
{"p":163,"a":"S","b":0.1},{"p":163,"a":"D","b":0.2},{"p":163,"a":"E","b":0.2},{"p":163,"a":"K","b":0.5},{"p":163,"a":"P","b":0.75},
{"p":164,"a":"A","b":0.1},{"p":164,"a":"E","b":0.15},{"p":164,"a":"S","b":0.2},{"p":164,"a":"N","b":1.95},
{"p":165,"a":"V","b":0.3},{"p":165,"a":"L","b":0.45},{"p":165,"a":"M","b":0.55},{"p":165,"a":"I","b":0.75},
{"p":166,"a":"L","b":0.3},{"p":166,"a":"A","b":0.3},{"p":166,"a":"V","b":0.45},{"p":166,"a":"I","b":0.55},
{"p":167,"a":"F","b":3.7},
{"p":168,"a":"P","b":3.35},
{"p":169,"a":"T","b":0.05},{"p":169,"a":"I","b":1.1},{"p":169,"a":"V","b":1.25},
{"p":170,"a":"L","b":0.05},{"p":170,"a":"F","b":3.45},
{"p":171,"a":"T","b":3.25},
{"p":172,"a":"N","b":3.55},
{"p":173,"a":"A","b":0.2},{"p":173,"a":"G","b":2.5},
{"p":174,"a":"L","b":0.35},{"p":174,"a":"I","b":2.35},
{"p":175,"a":"F","b":0.1},{"p":175,"a":"L","b":1.15},{"p":175,"a":"M","b":1.5},
{"p":176,"a":"F","b":0.2},{"p":176,"a":"M","b":0.4},{"p":176,"a":"L","b":0.65},{"p":176,"a":"I","b":0.65},
{"p":177,"a":"S","b":0.1},{"p":177,"a":"N","b":0.85},{"p":177,"a":"D","b":1.25},
{"p":178,"a":"S","b":0.1},{"p":178,"a":"G","b":0.15},{"p":178,"a":"Q","b":0.3},{"p":178,"a":"D","b":0.4},{"p":178,"a":"E","b":0.5},
{"p":179,"a":"G","b":0.1},{"p":179,"a":"T","b":0.1},{"p":179,"a":"S","b":0.15},{"p":179,"a":"A","b":0.2},{"p":179,"a":"D","b":0.3},{"p":179,"a":"E","b":0.55},
{"p":180,"a":"S","b":0.1},{"p":180,"a":"A","b":0.15},{"p":180,"a":"T","b":0.65},{"p":180,"a":"Y","b":1.6},
{"p":181,"a":"S","b":0.1},{"p":181,"a":"A","b":0.1},{"p":181,"a":"M","b":0.1},{"p":181,"a":"I","b":0.6},{"p":181,"a":"L","b":0.65},
{"p":182,"a":"S","b":0.1},{"p":182,"a":"A","b":0.15},{"p":182,"a":"K","b":0.3},{"p":182,"a":"N","b":0.35},{"p":182,"a":"E","b":0.4},
{"p":183,"a":"T","b":0.1},{"p":183,"a":"F","b":0.25},{"p":183,"a":"L","b":2.1},
{"p":184,"a":"T","b":0.1},{"p":184,"a":"L","b":0.3},{"p":184,"a":"F","b":2.3},
{"p":185,"a":"S","b":0.05},{"p":185,"a":"E","b":0.4},{"p":185,"a":"D","b":2.0},
{"p":186,"a":"S","b":0.2},{"p":186,"a":"E","b":0.15},{"p":186,"a":"K","b":0.3},{"p":186,"a":"Q","b":0.4},
{"p":187,"a":"C","b":0.1},{"p":187,"a":"G","b":0.15},{"p":187,"a":"S","b":0.15},{"p":187,"a":"H","b":0.95},{"p":187,"a":"N","b":1.1},
{"p":188,"a":"C","b":0.05},{"p":188,"a":"E","b":0.1},{"p":188,"a":"I","b":0.1},{"p":188,"a":"R","b":2.85},
{"p":189,"a":"S","b":0.1},{"p":189,"a":"T","b":0.1},{"p":189,"a":"N","b":3.2},
{"p":190,"a":"H","b":0.05},{"p":190,"a":"I","b":0.45},{"p":190,"a":"L","b":1.75},
{"p":191,"a":"V","b":0.55},{"p":191,"a":"I","b":2.4},
{"p":192,"a":"S","b":0.05},{"p":192,"a":"P","b":3.3},
{"p":193,"a":"I","b":0.6},{"p":193,"a":"V","b":1.85},
{"p":194,"a":"S","b":0.05},{"p":194,"a":"I","b":0.45},{"p":194,"a":"F","b":0.55},{"p":194,"a":"L","b":0.85},
{"p":195,"a":"S","b":3.0},
{"p":197,"a":"S","b":0.05},{"p":197,"a":"T","b":0.05},{"p":197,"a":"V","b":0.4},{"p":197,"a":"I","b":2.2},
{"p":198,"a":"E","b":3.15},
{"p":199,"a":"G","b":2.95},
{"p":200,"a":"G","b":0.1},{"p":200,"a":"A","b":0.1},{"p":200,"a":"S","b":0.2},{"p":200,"a":"D","b":0.5},{"p":200,"a":"N","b":0.7},
{"p":201,"a":"S","b":0.1},{"p":201,"a":"T","b":0.15},{"p":201,"a":"R","b":0.25},{"p":201,"a":"K","b":0.25},{"p":201,"a":"A","b":0.4},
{"p":202,"a":"C","b":0.05},{"p":202,"a":"T","b":0.1},{"p":202,"a":"S","b":0.15},{"p":202,"a":"A","b":0.25},{"p":202,"a":"K","b":0.4},{"p":202,"a":"E","b":0.6},
{"p":203,"a":"S","b":0.15},{"p":203,"a":"I","b":0.15},{"p":203,"a":"A","b":0.25},{"p":203,"a":"Q","b":0.35},{"p":203,"a":"E","b":0.65},
{"p":204,"a":"T","b":3.2},
{"p":205,"a":"N","b":0.05},{"p":205,"a":"D","b":3.1},
{"p":206,"a":"V","b":0.1},{"p":206,"a":"T","b":0.2},{"p":206,"a":"L","b":0.25},{"p":206,"a":"A","b":0.3},{"p":206,"a":"S","b":0.3},
{"p":207,"a":"R","b":3.25},
{"p":208,"a":"R","b":3.25},
{"p":209,"a":"G","b":2.95},
{"p":210,"a":"T","b":0.1},{"p":210,"a":"M","b":0.15},{"p":210,"a":"S","b":0.15},{"p":210,"a":"E","b":0.2},{"p":210,"a":"A","b":0.2},
{"p":211,"a":"G","b":2.95},
{"p":212,"a":"A","b":0.2},{"p":212,"a":"I","b":0.3},{"p":212,"a":"T","b":0.55},{"p":212,"a":"V","b":0.7},
{"p":213,"a":"T","b":0.05},{"p":213,"a":"H","b":0.3},{"p":213,"a":"Y","b":0.4},{"p":213,"a":"A","b":0.45},{"p":213,"a":"S","b":0.5},
{"p":214,"a":"S","b":0.1},{"p":214,"a":"A","b":0.35},{"p":214,"a":"K","b":0.35},{"p":214,"a":"E","b":0.55},
{"p":215,"a":"S","b":0.15},{"p":215,"a":"R","b":0.3},{"p":215,"a":"Q","b":0.4},{"p":215,"a":"K","b":0.55},
{"p":216,"a":"V","b":1.15},{"p":216,"a":"I","b":0.95},
{"p":217,"a":"C","b":0.05},{"p":217,"a":"Q","b":0.1},{"p":217,"a":"T","b":0.15},{"p":217,"a":"W","b":0.2},{"p":217,"a":"S","b":0.25},{"p":217,"a":"E","b":0.7},
{"p":218,"a":"D","b":0.1},{"p":218,"a":"T","b":0.1},{"p":218,"a":"K","b":0.15},{"p":218,"a":"S","b":0.2},{"p":218,"a":"A","b":0.2},{"p":218,"a":"Q","b":0.25},
{"p":219,"a":"T","b":0.1},{"p":219,"a":"V","b":0.85},{"p":219,"a":"A","b":0.95},
{"p":220,"a":"T","b":0.3},{"p":220,"a":"A","b":0.65},{"p":220,"a":"M","b":1.95},
{"p":221,"a":"T","b":0.15},{"p":221,"a":"E","b":0.35},{"p":221,"a":"A","b":0.45},
{"p":222,"a":"I","b":0.15},{"p":222,"a":"R","b":0.15},{"p":222,"a":"E","b":0.3},{"p":222,"a":"A","b":0.35},
{"p":223,"a":"I","b":0.15},{"p":223,"a":"F","b":0.45},{"p":223,"a":"L","b":1.7},
{"p":224,"a":"T","b":0.1},{"p":224,"a":"S","b":0.1},{"p":224,"a":"A","b":0.3},{"p":224,"a":"K","b":1.5},
{"p":225,"a":"S","b":0.1},{"p":225,"a":"T","b":0.2},{"p":225,"a":"R","b":0.2},{"p":225,"a":"E","b":0.35},{"p":225,"a":"K","b":0.8},
{"p":226,"a":"N","b":0.05},{"p":226,"a":"H","b":0.25},{"p":226,"a":"K","b":0.35},{"p":226,"a":"R","b":1.85},
{"p":227,"a":"R","b":0.1},{"p":227,"a":"H","b":0.25},{"p":227,"a":"N","b":0.3},{"p":227,"a":"G","b":0.6},{"p":227,"a":"K","b":0.65},
{"p":228,"a":"L","b":0.1},{"p":228,"a":"V","b":0.1},{"p":228,"a":"M","b":0.4},{"p":228,"a":"I","b":2.25},
{"p":229,"a":"L","b":2.75},
{"p":230,"a":"Y","b":0.6},{"p":230,"a":"F","b":2.65},
{"p":231,"a":"A","b":0.5},{"p":231,"a":"G","b":1.9},
{"p":232,"a":"S","b":0.05},{"p":232,"a":"T","b":0.4},{"p":232,"a":"V","b":0.5},{"p":232,"a":"A","b":0.65},
{"p":233,"a":"A","b":0.15},{"p":233,"a":"S","b":2.55},
{"p":234,"a":"V","b":0.6},{"p":234,"a":"I","b":2.05},
{"p":235,"a":"T","b":3.2},
{"p":236,"a":"V","b":3.0},
{"p":237,"a":"T","b":3.2},
{"p":238,"a":"H","b":0.05},{"p":238,"a":"T","b":0.25},{"p":238,"a":"S","b":0.25},{"p":238,"a":"R","b":0.25},{"p":238,"a":"N","b":0.3},{"p":238,"a":"K","b":0.35},
{"p":239,"a":"S","b":0.1},{"p":239,"a":"T","b":0.1},{"p":239,"a":"N","b":0.3},{"p":239,"a":"E","b":1.5},
{"p":240,"a":"N","b":3.5},
{"p":241,"a":"V","b":0.1},{"p":241,"a":"Q","b":0.25},{"p":241,"a":"K","b":0.35},{"p":241,"a":"L","b":0.4},{"p":241,"a":"M","b":0.5},
{"p":242,"a":"S","b":0.1},{"p":242,"a":"E","b":0.15},{"p":242,"a":"A","b":0.2},{"p":242,"a":"D","b":0.2},{"p":242,"a":"K","b":0.25},{"p":242,"a":"H","b":0.3},
{"p":243,"a":"S","b":0.1},{"p":243,"a":"A","b":0.15},{"p":243,"a":"D","b":0.15},{"p":243,"a":"T","b":0.2},{"p":243,"a":"E","b":0.2},{"p":243,"a":"L","b":0.2},
{"p":244,"a":"A","b":0.15},{"p":244,"a":"V","b":2.6},
{"p":245,"a":"S","b":0.05},{"p":245,"a":"L","b":0.2},{"p":245,"a":"A","b":0.25},{"p":245,"a":"V","b":0.6},{"p":245,"a":"T","b":0.85},
{"p":246,"a":"L","b":0.25},{"p":246,"a":"R","b":0.2},{"p":246,"a":"S","b":0.2},{"p":246,"a":"D","b":0.2},{"p":246,"a":"E","b":0.2},
{"p":247,"a":"N","b":0.15},{"p":247,"a":"S","b":0.15},{"p":247,"a":"P","b":0.15},{"p":247,"a":"T","b":0.2},{"p":247,"a":"E","b":0.2},
{"p":248,"a":"T","b":0.2},{"p":248,"a":"I","b":0.2},{"p":248,"a":"D","b":0.2},{"p":248,"a":"S","b":0.25},
{"p":249,"a":"H","b":0.05},{"p":249,"a":"Y","b":0.7},{"p":249,"a":"F","b":2.3},
{"p":250,"a":"T","b":0.1},{"p":250,"a":"L","b":0.75},{"p":250,"a":"V","b":1.1},
{"p":251,"a":"Q","b":0.1},{"p":251,"a":"A","b":0.15},{"p":251,"a":"S","b":0.15},{"p":251,"a":"R","b":0.2},{"p":251,"a":"D","b":0.2},{"p":251,"a":"E","b":0.3},
{"p":252,"a":"V","b":0.05},{"p":252,"a":"T","b":0.15},{"p":252,"a":"I","b":0.15},{"p":252,"a":"S","b":0.25},{"p":252,"a":"A","b":0.3},
{"p":253,"a":"L","b":2.7},
{"p":254,"a":"T","b":0.15},{"p":254,"a":"O","b":0.15},{"p":254,"a":"E","b":0.4},{"p":254,"a":"R","b":1.15},
{"p":255,"a":"S","b":0.15},{"p":255,"a":"Q","b":0.15},{"p":255,"a":"N","b":0.2},{"p":255,"a":"K","b":0.2},{"p":255,"a":"D","b":0.25},{"p":255,"a":"E","b":0.3},
{"p":256,"a":"S","b":0.15},{"p":256,"a":"N","b":0.15},{"p":256,"a":"O","b":0.15},{"p":256,"a":"D","b":0.2},{"p":256,"a":"R","b":0.3},{"p":256,"a":"K","b":0.45},
{"p":257,"a":"G","b":2.95},
{"p":258,"a":"C","b":4.3},
{"p":259,"a":"G","b":2.95},
{"p":260,"a":"A","b":0.1},{"p":260,"a":"I","b":0.2},{"p":260,"a":"L","b":0.6},{"p":260,"a":"V","b":0.65},
{"p":261,"a":"T","b":0.1},{"p":261,"a":"S","b":0.1},{"p":261,"a":"L","b":0.2},{"p":261,"a":"I","b":0.5},{"p":261,"a":"V","b":0.6},
{"p":262,"a":"L","b":1.0},{"p":262,"a":"F","b":1.85},
{"p":263,"a":"F","b":0.95},{"p":263,"a":"Y","b":2.2},
{"p":264,"a":"I","b":0.7},{"p":264,"a":"V","b":1.85},
{"p":265,"a":"E","b":3.15},
{"p":266,"a":"F","b":0.1},{"p":266,"a":"V","b":3.7},
{"p":267,"a":"V","b":3.05},
{"p":268,"a":"P","b":3.35},
{"p":269,"a":"S","b":0.1},{"p":269,"a":"V","b":0.95},{"p":269,"a":"A","b":1.0},
{"p":270,"a":"Q","b":0.25},{"p":270,"a":"E","b":2.65},
{"p":271,"a":"E","b":0.2},{"p":271,"a":"P","b":0.3},{"p":271,"a":"A","b":0.4},{"p":271,"a":"K","b":0.6},
{"p":272,"a":"N","b":0.85},{"p":272,"a":"G","b":1.7},
{"p":273,"a":"T","b":3.25},
{"p":274,"a":"D","b":0.65},{"p":274,"a":"E","b":1.95},
{"p":275,"a":"E","b":0.15},{"p":275,"a":"D","b":0.15},{"p":275,"a":"A","b":0.15},{"p":275,"a":"S","b":0.2},{"p":275,"a":"N","b":0.2},{"p":275,"a":"Y","b":0.45},{"p":275,"a":"H","b":0.46},
{"p":276,"a":"L","b":2.7},
{"p":277,"a":"S","b":0.05},{"p":277,"a":"M","b":0.2},{"p":277,"a":"A","b":0.2},{"p":277,"a":"I","b":0.4},{"p":277,"a":"V","b":0.75},
{"p":278,"a":"L","b":2.7},
{"p":279,"a":"I","b":0.05},{"p":279,"a":"N","b":0.2},{"p":279,"a":"T","b":0.3},{"p":279,"a":"S","b":0.4},{"p":279,"a":"D","b":0.45},
{"p":280,"a":"N","b":0.1},{"p":280,"a":"O","b":0.2},{"p":280,"a":"K","b":0.2},{"p":280,"a":"D","b":0.2},{"p":280,"a":"E","b":0.5},
{"p":281,"a":"S","b":0.1},{"p":281,"a":"T","b":0.15},{"p":281,"a":"N","b":0.15},{"p":281,"a":"A","b":0.15},{"p":281,"a":"E","b":0.15},{"p":281,"a":"D","b":0.2},
{"p":282,"a":"G","b":0.1},{"p":282,"a":"S","b":0.15},{"p":282,"a":"A","b":0.2},{"p":282,"a":"N","b":0.2},{"p":282,"a":"E","b":0.45},{"p":282,"a":"D","b":0.5},
{"p":283,"a":"C","b":0.05},{"p":283,"a":"N","b":0.15},{"p":283,"a":"S","b":0.2},{"p":283,"a":"I","b":0.3},{"p":283,"a":"T","b":0.3},{"p":283,"a":"L","b":0.35},
{"p":284,"a":"C","b":0.05},{"p":284,"a":"S","b":0.2},{"p":284,"a":"A","b":0.2},{"p":284,"a":"H","b":0.25},{"p":284,"a":"E","b":0.3},{"p":284,"a":"K","b":0.5},
{"p":285,"a":"W","b":0.15},{"p":285,"a":"Q","b":0.15},{"p":285,"a":"F","b":0.25},{"p":285,"a":"V","b":0.3},{"p":285,"a":"L","b":0.3},
{"p":286,"a":"N","b":0.1},{"p":286,"a":"L","b":2.55},
{"p":287,"a":"A","b":0.2},{"p":287,"a":"T","b":0.2},{"p":287,"a":"R","b":0.2},{"p":287,"a":"N","b":0.4},{"p":287,"a":"Q","b":1.0},
{"p":288,"a":"N","b":0.15},{"p":288,"a":"A","b":0.15},{"p":288,"a":"K","b":0.2},{"p":288,"a":"E","b":0.2},{"p":288,"a":"S","b":0.3},
{"p":289,"a":"S","b":0.1},{"p":289,"a":"L","b":0.2},{"p":289,"a":"I","b":0.2},{"p":289,"a":"E","b":0.25},{"p":289,"a":"T","b":0.25},{"p":289,"a":"R","b":0.25},
{"p":290,"a":"T","b":0.3},{"p":290,"a":"I","b":0.5},{"p":290,"a":"C","b":0.55},{"p":290,"a":"V","b":0.6},
{"p":291,"a":"A","b":0.2},{"p":291,"a":"L","b":0.2},{"p":291,"a":"S","b":0.3},{"p":291,"a":"D","b":0.35},
{"p":292,"a":"N","b":0.15},{"p":292,"a":"R","b":0.15},{"p":292,"a":"S","b":0.2},{"p":292,"a":"A","b":0.2},{"p":292,"a":"E","b":0.2},
{"p":293,"a":"A","b":0.05},{"p":293,"a":"F","b":0.25},{"p":293,"a":"L","b":2.1},
{"p":294,"a":"K","b":1.05},{"p":294,"a":"R","b":1.3},
{"p":295,"a":"V","b":0.2},{"p":295,"a":"S","b":0.2},{"p":295,"a":"R","b":0.2},{"p":295,"a":"N","b":0.2},{"p":295,"a":"Q","b":0.25},{"p":295,"a":"G","b":0.25},
{"p":296,"a":"K","b":0.1},{"p":296,"a":"F","b":0.15},{"p":296,"a":"E","b":0.3},{"p":296,"a":"N","b":0.3},{"p":296,"a":"R","b":0.6},
{"p":297,"a":"C","b":0.05},{"p":297,"a":"T","b":0.1},{"p":297,"a":"A","b":0.25},{"p":297,"a":"S","b":0.4},{"p":297,"a":"K","b":0.6},
{"p":298,"a":"T","b":0.15},{"p":298,"a":"D","b":0.2},{"p":298,"a":"K","b":0.2},{"p":298,"a":"S","b":0.25},{"p":298,"a":"R","b":0.25},
{"p":299,"a":"C","b":0.05},{"p":299,"a":"V","b":0.1},{"p":299,"a":"L","b":0.3},{"p":299,"a":"N","b":0.55},{"p":299,"a":"F","b":1.05},
{"p":300,"a":"I","b":0.1},{"p":300,"a":"T","b":0.15},{"p":300,"a":"A","b":0.25},{"p":300,"a":"R","b":0.4},{"p":300,"a":"K","b":0.75},
{"p":301,"a":"K","b":0.1},{"p":301,"a":"R","b":0.45},{"p":301,"a":"G","b":0.5},{"p":301,"a":"D","b":0.85},
{"p":302,"a":"L","b":0.25},{"p":302,"a":"I","b":0.3},{"p":302,"a":"T","b":0.35},{"p":302,"a":"M","b":2.15},
{"p":303,"a":"N","b":0.15},{"p":303,"a":"S","b":0.3},{"p":303,"a":"V","b":0.55},{"p":303,"a":"I","b":0.65},
{"p":304,"a":"F","b":0.15},{"p":304,"a":"V","b":0.25},{"p":304,"a":"L","b":0.3},{"p":304,"a":"M","b":0.3},{"p":304,"a":"I","b":1.05},
{"p":305,"a":"S","b":0.1},{"p":305,"a":"F","b":0.25},{"p":305,"a":"V","b":0.3},{"p":305,"a":"L","b":1.2},
{"p":306,"a":"A","b":0.15},{"p":306,"a":"S","b":2.6},
{"p":307,"a":"F","b":3.7},
{"p":308,"a":"S","b":0.05},{"p":308,"a":"P","b":3.2},
{"p":309,"a":"G","b":2.95},
{"p":310,"a":"D","b":3.4},
{"p":311,"a":"E","b":3.2},
{"p":312,"a":"A","b":0.15},{"p":312,"a":"K","b":0.4},{"p":312,"a":"Q","b":0.45},{"p":312,"a":"E","b":1.0},
{"p":313,"a":"T","b":0.15},{"p":313,"a":"S","b":0.15},{"p":313,"a":"Y","b":0.25},{"p":313,"a":"A","b":0.4},{"p":313,"a":"E","b":0.45},
{"p":314,"a":"L","b":0.15},{"p":314,"a":"E","b":0.15},{"p":314,"a":"I","b":0.15},{"p":314,"a":"M","b":3.15},
{"p":315,"a":"G","b":2.7},
{"p":316,"a":"G","b":3.0},
{"p":317,"a":"C","b":4.3},
{"p":318,"a":"L","b":2.75},
{"p":319,"a":"T","b":0.1},{"p":319,"a":"S","b":0.5},{"p":319,"a":"A","b":2.25},
{"p":320,"a":"T","b":0.05},{"p":320,"a":"S","b":1.0},{"p":320,"a":"A","b":1.1},
{"p":321,"a":"O","b":0.1},{"p":321,"a":"G","b":2.7},
{"p":322,"a":"R","b":3.25},
{"p":323,"a":"G","b":2.95},
{"p":324,"a":"F","b":3.7},
{"p":325,"a":"F","b":3.7},
{"p":326,"a":"H","b":4.3},
{"p":327,"a":"V","b":0.15},{"p":327,"a":"I","b":3.0},
{"p":328,"a":"S","b":0.45},{"p":328,"a":"N","b":2.5},
{"p":329,"a":"A","b":0.85},{"p":329,"a":"P","b":1.6},
{"p":330,"a":"S","b":0.1},{"p":330,"a":"I","b":0.15},{"p":330,"a":"T","b":0.2},{"p":330,"a":"K","b":0.2},{"p":330,"a":"N","b":0.3},
{"p":331,"a":"G","b":2.95},
{"p":332,"a":"S","b":0.15},{"p":332,"a":"A","b":0.15},{"p":332,"a":"D","b":0.55},{"p":332,"a":"G","b":0.9},
{"p":333,"a":"A","b":2.75},
{"p":334,"a":"E","b":3.15},
{"p":335,"a":"A","b":0.15},{"p":335,"a":"P","b":2.95},
{"p":336,"a":"C","b":4.3},
{"p":337,"a":"P","b":3.4},
{"p":338,"a":"F","b":3.7},
{"p":339,"a":"A","b":0.1},{"p":339,"a":"S","b":2.75},
{"p":340,"a":"P","b":3.4},
{"p":341,"a":"C","b":0.05},{"p":341,"a":"H","b":0.5},{"p":341,"a":"Y","b":1.0},{"p":341,"a":"F","b":1.05},
{"p":342,"a":"C","b":0.05},{"p":342,"a":"A","b":0.6},{"p":342,"a":"S","b":1.55},
{"p":343,"a":"T","b":0.1},{"p":343,"a":"V","b":0.2},{"p":343,"a":"E","b":0.45},{"p":343,"a":"K","b":0.65},
{"p":344,"a":"H","b":0.2},{"p":344,"a":"M","b":0.3},{"p":344,"a":"Q","b":0.4},{"p":344,"a":"L","b":0.5},
{"p":345,"a":"V","b":0.1},{"p":345,"a":"N","b":3.3},
{"p":346,"a":"I","b":0.05},{"p":346,"a":"V","b":0.5},{"p":346,"a":"L","b":1.45},
{"p":347,"a":"S","b":0.1},{"p":347,"a":"A","b":0.2},{"p":347,"a":"T","b":0.35},{"p":347,"a":"K","b":1.45},
{"p":348,"a":"Q","b":0.1},{"p":348,"a":"T","b":0.15},{"p":348,"a":"R","b":0.2},{"p":348,"a":"S","b":0.25},{"p":348,"a":"E","b":0.3},{"p":348,"a":"D","b":0.35},
{"p":349,"a":"C","b":0.05},{"p":349,"a":"S","b":0.15},{"p":349,"a":"N","b":0.25},{"p":349,"a":"Q","b":0.35},{"p":349,"a":"D","b":0.45},
{"p":350,"a":"G","b":0.2},{"p":350,"a":"T","b":0.25},{"p":350,"a":"S","b":1.75},
{"p":351,"a":"M","b":0.15},{"p":351,"a":"V","b":0.2},{"p":351,"a":"L","b":0.7},{"p":351,"a":"I","b":0.8},
{"p":352,"a":"K","b":0.15},{"p":352,"a":"I","b":0.2},{"p":352,"a":"L","b":0.4},{"p":352,"a":"E","b":0.45},
{"p":353,"a":"T","b":0.15},{"p":353,"a":"K","b":0.15},{"p":353,"a":"D","b":0.25},{"p":353,"a":"A","b":0.3},{"p":353,"a":"E","b":0.5},
{"p":354,"a":"T","b":0.1},{"p":354,"a":"A","b":0.25},{"p":354,"a":"I","b":0.35},{"p":354,"a":"V","b":1.3},
{"p":355,"a":"L","b":2.7},
{"p":356,"a":"S","b":0.1},{"p":356,"a":"G","b":0.15},{"p":356,"a":"K","b":0.3},{"p":356,"a":"Q","b":0.55},{"p":356,"a":"R","b":0.7},
{"p":357,"a":"S","b":2.95},
{"p":358,"a":"T","b":0.15},{"p":358,"a":"G","b":0.15},{"p":358,"a":"S","b":0.2},{"p":358,"a":"D","b":0.2},{"p":358,"a":"Q","b":0.25},{"p":358,"a":"P","b":0.26},
{"p":359,"a":"I","b":0.05},{"p":359,"a":"Y","b":0.95},{"p":359,"a":"F","b":1.85},
{"p":360,"a":"Y","b":0.15},{"p":360,"a":"F","b":3.4},
{"p":361,"a":"S","b":0.1},{"p":361,"a":"D","b":0.1},{"p":361,"a":"A","b":0.4},{"p":361,"a":"E","b":0.45},
{"p":362,"a":"R","b":0.15},{"p":362,"a":"E","b":0.35},{"p":362,"a":"D","b":0.45},{"p":362,"a":"K","b":0.55},
{"p":363,"a":"T","b":0.25},{"p":363,"a":"V","b":0.7},{"p":363,"a":"L","b":0.8},
{"p":364,"a":"E","b":0.3},{"p":364,"a":"R","b":2.9},
{"p":365,"a":"S","b":0.15},{"p":365,"a":"O","b":0.15},{"p":365,"a":"N","b":0.2},{"p":365,"a":"K","b":0.3},{"p":365,"a":"E","b":0.65},
{"p":366,"a":"A","b":0.05},{"p":366,"a":"L","b":0.5},{"p":366,"a":"I","b":1.85},
{"p":367,"a":"G","b":0.55},{"p":367,"a":"S","b":1.4},
{"p":368,"a":"T","b":0.1},{"p":368,"a":"S","b":0.15},{"p":368,"a":"K","b":0.3},{"p":368,"a":"E","b":0.35},{"p":368,"a":"A","b":0.85},
{"p":369,"a":"C","b":0.05},{"p":369,"a":"L","b":0.2},{"p":369,"a":"V","b":0.25},{"p":369,"a":"E","b":0.3},{"p":369,"a":"A","b":0.55},
{"p":370,"a":"S","b":0.15},{"p":370,"a":"R","b":0.2},{"p":370,"a":"N","b":0.2},{"p":370,"a":"D","b":0.2},{"p":370,"a":"E","b":0.21},
{"p":371,"a":"S","b":0.05},{"p":371,"a":"V","b":0.6},{"p":371,"a":"A","b":1.5},
{"p":372,"a":"S","b":0.1},{"p":372,"a":"E","b":0.25},{"p":372,"a":"D","b":0.25},{"p":372,"a":"L","b":0.25},{"p":372,"a":"G","b":0.45},
{"p":373,"a":"S","b":0.1},{"p":373,"a":"E","b":0.2},{"p":373,"a":"P","b":0.3},{"p":373,"a":"H","b":0.3},{"p":373,"a":"N","b":0.65},
{"p":374,"a":"R","b":0.1},{"p":374,"a":"C","b":0.1},{"p":374,"a":"N","b":0.15},{"p":374,"a":"K","b":0.15},{"p":374,"a":"H","b":3.1},
{"p":375,"a":"N","b":0.1},{"p":375,"a":"S","b":0.3},{"p":375,"a":"T","b":0.3},{"p":375,"a":"K","b":0.6},
{"p":376,"a":"G","b":2.95},
{"p":377,"a":"G","b":2.95},
{"p":378,"a":"C","b":4.3},
{"p":379,"a":"S","b":0.1},{"p":379,"a":"V","b":0.4},{"p":379,"a":"T","b":1.95},
{"p":380,"a":"L","b":2.65},
{"p":381,"a":"Y","b":0.15},{"p":381,"a":"L","b":0.15},{"p":381,"a":"F","b":3.05},
{"p":382,"a":"T","b":0.2},{"p":382,"a":"M","b":0.2},{"p":382,"a":"D","b":0.2},{"p":382,"a":"Q","b":0.35},{"p":382,"a":"E","b":0.4},
{"p":383,"a":"S","b":0.1},{"p":383,"a":"E","b":0.2},{"p":383,"a":"K","b":0.25},{"p":383,"a":"Y","b":0.3},{"p":383,"a":"V","b":0.3},{"p":383,"a":"H","b":0.7},
{"p":384,"a":"R","b":0.2},{"p":384,"a":"D","b":0.3},{"p":384,"a":"K","b":0.5},{"p":384,"a":"E","b":0.7},
{"p":385,"a":"T","b":0.15},{"p":385,"a":"Q","b":0.2},{"p":385,"a":"E","b":0.45},{"p":385,"a":"D","b":0.6},
{"p":386,"a":"S","b":0.2},{"p":386,"a":"Q","b":0.6},{"p":386,"a":"E","b":1.5},
{"p":387,"a":"T","b":0.1},{"p":387,"a":"V","b":2.85},
{"p":388,"a":"S","b":0.2},{"p":388,"a":"R","b":0.2},{"p":388,"a":"K","b":0.3},{"p":388,"a":"E","b":0.7},
{"p":389,"a":"I","b":0.1},{"p":389,"a":"S","b":0.15},{"p":389,"a":"E","b":0.2},{"p":389,"a":"Q","b":0.25},{"p":389,"a":"K","b":0.25},{"p":389,"a":"A","b":0.26},
{"p":390,"a":"I","b":0.2},{"p":390,"a":"A","b":0.4},{"p":390,"a":"L","b":1.05},
{"p":391,"a":"C","b":0.05},{"p":391,"a":"S","b":0.2},{"p":391,"a":"N","b":0.2},{"p":391,"a":"T","b":0.3},{"p":391,"a":"L","b":0.55},
{"p":392,"a":"I","b":0.1},{"p":392,"a":"K","b":0.2},{"p":392,"a":"G","b":0.2},{"p":392,"a":"S","b":0.25},{"p":392,"a":"A","b":0.35},
{"p":393,"a":"V","b":0.15},{"p":393,"a":"K","b":0.2},{"p":393,"a":"H","b":0.2},{"p":393,"a":"D","b":0.2},{"p":393,"a":"Q","b":0.2},{"p":393,"a":"G","b":0.35},
{"p":394,"a":"I","b":0.2},{"p":394,"a":"R","b":0.25},{"p":394,"a":"N","b":0.25},{"p":394,"a":"M","b":0.25},{"p":394,"a":"E","b":0.4}
]
},
"vconcat": [
{"width": 3600, "height": 225, "layer": [
 {"data": {"name": "S"}, "transform": [{"filter": "datum.p >= 1 && datum.p <= 80"}],
  "mark": {"type": "rule", "color": "black", "strokeWidth": 2},
  "encoding": {
   "x": {"field": "p", "type": "quantitative", "scale": {"domain": [0.5, 80.5], "nice": false, "zero": false}, "axis": {"title": null, "tickCount": 80, "format": "d", "labelExpr": "datum.value % 5 === 0 ? datum.label : ''"}},
   "y": {"field": "h", "type": "quantitative", "scale": {"domain": [0, 4.32], "nice": false, "zero": false}, "axis": {"title": "bits", "values": [0,0.2,0.4,0.6,0.8,1,1.2,1.4,1.6,1.8,2,2.2,2.4,2.6,2.8,3,3.2,3.4,3.6,3.8,4,4.2], "labelExpr": "datum.value % 1 === 0 ? format(datum.value, '.1f') : ''", "tickSize": {"condition": {"test": "datum.value % 1 === 0", "value": 22}, "value": 11}}},
   "y2": {"datum": 0}}},
 {"data": {"name": "L"}, "transform": [{"filter": "datum.p >= 1 && datum.p <= 80"}, {"stack": "b", "groupby": ["p"], "sort": [{"field": "b", "order": "ascending"}], "as": ["y0", "y1"]}],
  "mark": {"type": "text", "baseline": "alphabetic", "align": "center", "font": "Liberation Sans Narrow, DejaVu Sans Condensed, Liberation Sans", "fontWeight": "bold"},
  "encoding": {
   "x": {"field": "p", "type": "quantitative", "scale": {"domain": [0.5, 80.5], "nice": false, "zero": false}, "axis": {"title": null, "tickCount": 80, "format": "d", "labelExpr": "datum.value % 5 === 0 ? datum.label : ''"}},
   "y": {"field": "y0", "type": "quantitative", "scale": {"domain": [0, 4.32], "nice": false, "zero": false}, "axis": {"title": "bits", "values": [0,0.2,0.4,0.6,0.8,1,1.2,1.4,1.6,1.8,2,2.2,2.4,2.6,2.8,3,3.2,3.4,3.6,3.8,4,4.2], "labelExpr": "datum.value % 1 === 0 ? format(datum.value, '.1f') : ''", "tickSize": {"condition": {"test": "datum.value % 1 === 0", "value": 22}, "value": 11}}},
   "text": {"field": "a"},
   "size": {"field": "b", "type": "quantitative", "scale": {"domain": [0, 0.8, 4.5], "range": [0, 58, 128], "clamp": true}, "legend": null},
   "color": {"condition": {"test": "datum.a === 'C'", "value": "red"}, "value": "black"}}},
 {"data": {"name": "E"}, "transform": [{"filter": "datum.p >= 1 && datum.p <= 80"}],
  "mark": {"type": "rule", "color": "#c0c0c0", "strokeWidth": 2},
  "encoding": {
   "x": {"field": "p", "type": "quantitative", "scale": {"domain": [0.5, 80.5], "nice": false, "zero": false}, "axis": {"title": null, "tickCount": 80, "format": "d", "labelExpr": "datum.value % 5 === 0 ? datum.label : ''"}},
   "y": {"field": "lo", "type": "quantitative", "scale": {"domain": [0, 4.32], "nice": false, "zero": false}, "axis": {"title": "bits", "values": [0,0.2,0.4,0.6,0.8,1,1.2,1.4,1.6,1.8,2,2.2,2.4,2.6,2.8,3,3.2,3.4,3.6,3.8,4,4.2], "labelExpr": "datum.value % 1 === 0 ? format(datum.value, '.1f') : ''", "tickSize": {"condition": {"test": "datum.value % 1 === 0", "value": 22}, "value": 11}}},
   "y2": {"field": "hi"}}},
 {"data": {"name": "E"}, "transform": [{"filter": "datum.p >= 1 && datum.p <= 80"}, {"fold": ["lo", "hi"], "as": ["k", "v"]}],
  "mark": {"type": "tick", "orient": "horizontal", "color": "#c0c0c0", "size": 8, "thickness": 3},
  "encoding": {
   "x": {"field": "p", "type": "quantitative", "scale": {"domain": [0.5, 80.5], "nice": false, "zero": false}, "axis": {"title": null, "tickCount": 80, "format": "d", "labelExpr": "datum.value % 5 === 0 ? datum.label : ''"}},
   "y": {"field": "v", "type": "quantitative", "scale": {"domain": [0, 4.32], "nice": false, "zero": false}, "axis": {"title": "bits", "values": [0,0.2,0.4,0.6,0.8,1,1.2,1.4,1.6,1.8,2,2.2,2.4,2.6,2.8,3,3.2,3.4,3.6,3.8,4,4.2], "labelExpr": "datum.value % 1 === 0 ? format(datum.value, '.1f') : ''", "tickSize": {"condition": {"test": "datum.value % 1 === 0", "value": 22}, "value": 11}}}}}
]},
{"width": 3600, "height": 225, "layer": [
 {"data": {"name": "S"}, "transform": [{"filter": "datum.p >= 81 && datum.p <= 160"}],
  "mark": {"type": "rule", "color": "black", "strokeWidth": 2},
  "encoding": {
   "x": {"field": "p", "type": "quantitative", "scale": {"domain": [80.5, 160.5], "nice": false, "zero": false}, "axis": {"title": null, "tickCount": 80, "format": "d", "labelExpr": "datum.value % 5 === 0 ? datum.label : ''"}},
   "y": {"field": "h", "type": "quantitative", "scale": {"domain": [0, 4.32], "nice": false, "zero": false}, "axis": {"title": "bits", "values": [0,0.2,0.4,0.6,0.8,1,1.2,1.4,1.6,1.8,2,2.2,2.4,2.6,2.8,3,3.2,3.4,3.6,3.8,4,4.2], "labelExpr": "datum.value % 1 === 0 ? format(datum.value, '.1f') : ''", "tickSize": {"condition": {"test": "datum.value % 1 === 0", "value": 22}, "value": 11}}},
   "y2": {"datum": 0}}},
 {"data": {"name": "L"}, "transform": [{"filter": "datum.p >= 81 && datum.p <= 160"}, {"stack": "b", "groupby": ["p"], "sort": [{"field": "b", "order": "ascending"}], "as": ["y0", "y1"]}],
  "mark": {"type": "text", "baseline": "alphabetic", "align": "center", "font": "Liberation Sans Narrow, DejaVu Sans Condensed, Liberation Sans", "fontWeight": "bold"},
  "encoding": {
   "x": {"field": "p", "type": "quantitative", "scale": {"domain": [80.5, 160.5], "nice": false, "zero": false}, "axis": {"title": null, "tickCount": 80, "format": "d", "labelExpr": "datum.value % 5 === 0 ? datum.label : ''"}},
   "y": {"field": "y0", "type": "quantitative", "scale": {"domain": [0, 4.32], "nice": false, "zero": false}, "axis": {"title": "bits", "values": [0,0.2,0.4,0.6,0.8,1,1.2,1.4,1.6,1.8,2,2.2,2.4,2.6,2.8,3,3.2,3.4,3.6,3.8,4,4.2], "labelExpr": "datum.value % 1 === 0 ? format(datum.value, '.1f') : ''", "tickSize": {"condition": {"test": "datum.value % 1 === 0", "value": 22}, "value": 11}}},
   "text": {"field": "a"},
   "size": {"field": "b", "type": "quantitative", "scale": {"domain": [0, 0.8, 4.5], "range": [0, 58, 128], "clamp": true}, "legend": null},
   "color": {"condition": {"test": "datum.a === 'C'", "value": "red"}, "value": "black"}}},
 {"data": {"name": "E"}, "transform": [{"filter": "datum.p >= 81 && datum.p <= 160"}],
  "mark": {"type": "rule", "color": "#c0c0c0", "strokeWidth": 2},
  "encoding": {
   "x": {"field": "p", "type": "quantitative", "scale": {"domain": [80.5, 160.5], "nice": false, "zero": false}, "axis": {"title": null, "tickCount": 80, "format": "d", "labelExpr": "datum.value % 5 === 0 ? datum.label : ''"}},
   "y": {"field": "lo", "type": "quantitative", "scale": {"domain": [0, 4.32], "nice": false, "zero": false}, "axis": {"title": "bits", "values": [0,0.2,0.4,0.6,0.8,1,1.2,1.4,1.6,1.8,2,2.2,2.4,2.6,2.8,3,3.2,3.4,3.6,3.8,4,4.2], "labelExpr": "datum.value % 1 === 0 ? format(datum.value, '.1f') : ''", "tickSize": {"condition": {"test": "datum.value % 1 === 0", "value": 22}, "value": 11}}},
   "y2": {"field": "hi"}}},
 {"data": {"name": "E"}, "transform": [{"filter": "datum.p >= 81 && datum.p <= 160"}, {"fold": ["lo", "hi"], "as": ["k", "v"]}],
  "mark": {"type": "tick", "orient": "horizontal", "color": "#c0c0c0", "size": 8, "thickness": 3},
  "encoding": {
   "x": {"field": "p", "type": "quantitative", "scale": {"domain": [80.5, 160.5], "nice": false, "zero": false}, "axis": {"title": null, "tickCount": 80, "format": "d", "labelExpr": "datum.value % 5 === 0 ? datum.label : ''"}},
   "y": {"field": "v", "type": "quantitative", "scale": {"domain": [0, 4.32], "nice": false, "zero": false}, "axis": {"title": "bits", "values": [0,0.2,0.4,0.6,0.8,1,1.2,1.4,1.6,1.8,2,2.2,2.4,2.6,2.8,3,3.2,3.4,3.6,3.8,4,4.2], "labelExpr": "datum.value % 1 === 0 ? format(datum.value, '.1f') : ''", "tickSize": {"condition": {"test": "datum.value % 1 === 0", "value": 22}, "value": 11}}}}}
]},
{"width": 3600, "height": 225, "layer": [
 {"data": {"name": "S"}, "transform": [{"filter": "datum.p >= 161 && datum.p <= 240"}],
  "mark": {"type": "rule", "color": "black", "strokeWidth": 2},
  "encoding": {
   "x": {"field": "p", "type": "quantitative", "scale": {"domain": [160.5, 240.5], "nice": false, "zero": false}, "axis": {"title": null, "tickCount": 80, "format": "d", "labelExpr": "datum.value % 5 === 0 ? datum.label : ''"}},
   "y": {"field": "h", "type": "quantitative", "scale": {"domain": [0, 4.32], "nice": false, "zero": false}, "axis": {"title": "bits", "values": [0,0.2,0.4,0.6,0.8,1,1.2,1.4,1.6,1.8,2,2.2,2.4,2.6,2.8,3,3.2,3.4,3.6,3.8,4,4.2], "labelExpr": "datum.value % 1 === 0 ? format(datum.value, '.1f') : ''", "tickSize": {"condition": {"test": "datum.value % 1 === 0", "value": 22}, "value": 11}}},
   "y2": {"datum": 0}}},
 {"data": {"name": "L"}, "transform": [{"filter": "datum.p >= 161 && datum.p <= 240"}, {"stack": "b", "groupby": ["p"], "sort": [{"field": "b", "order": "ascending"}], "as": ["y0", "y1"]}],
  "mark": {"type": "text", "baseline": "alphabetic", "align": "center", "font": "Liberation Sans Narrow, DejaVu Sans Condensed, Liberation Sans", "fontWeight": "bold"},
  "encoding": {
   "x": {"field": "p", "type": "quantitative", "scale": {"domain": [160.5, 240.5], "nice": false, "zero": false}, "axis": {"title": null, "tickCount": 80, "format": "d", "labelExpr": "datum.value % 5 === 0 ? datum.label : ''"}},
   "y": {"field": "y0", "type": "quantitative", "scale": {"domain": [0, 4.32], "nice": false, "zero": false}, "axis": {"title": "bits", "values": [0,0.2,0.4,0.6,0.8,1,1.2,1.4,1.6,1.8,2,2.2,2.4,2.6,2.8,3,3.2,3.4,3.6,3.8,4,4.2], "labelExpr": "datum.value % 1 === 0 ? format(datum.value, '.1f') : ''", "tickSize": {"condition": {"test": "datum.value % 1 === 0", "value": 22}, "value": 11}}},
   "text": {"field": "a"},
   "size": {"field": "b", "type": "quantitative", "scale": {"domain": [0, 0.8, 4.5], "range": [0, 58, 128], "clamp": true}, "legend": null},
   "color": {"condition": {"test": "datum.a === 'C'", "value": "red"}, "value": "black"}}},
 {"data": {"name": "E"}, "transform": [{"filter": "datum.p >= 161 && datum.p <= 240"}],
  "mark": {"type": "rule", "color": "#c0c0c0", "strokeWidth": 2},
  "encoding": {
   "x": {"field": "p", "type": "quantitative", "scale": {"domain": [160.5, 240.5], "nice": false, "zero": false}, "axis": {"title": null, "tickCount": 80, "format": "d", "labelExpr": "datum.value % 5 === 0 ? datum.label : ''"}},
   "y": {"field": "lo", "type": "quantitative", "scale": {"domain": [0, 4.32], "nice": false, "zero": false}, "axis": {"title": "bits", "values": [0,0.2,0.4,0.6,0.8,1,1.2,1.4,1.6,1.8,2,2.2,2.4,2.6,2.8,3,3.2,3.4,3.6,3.8,4,4.2], "labelExpr": "datum.value % 1 === 0 ? format(datum.value, '.1f') : ''", "tickSize": {"condition": {"test": "datum.value % 1 === 0", "value": 22}, "value": 11}}},
   "y2": {"field": "hi"}}},
 {"data": {"name": "E"}, "transform": [{"filter": "datum.p >= 161 && datum.p <= 240"}, {"fold": ["lo", "hi"], "as": ["k", "v"]}],
  "mark": {"type": "tick", "orient": "horizontal", "color": "#c0c0c0", "size": 8, "thickness": 3},
  "encoding": {
   "x": {"field": "p", "type": "quantitative", "scale": {"domain": [160.5, 240.5], "nice": false, "zero": false}, "axis": {"title": null, "tickCount": 80, "format": "d", "labelExpr": "datum.value % 5 === 0 ? datum.label : ''"}},
   "y": {"field": "v", "type": "quantitative", "scale": {"domain": [0, 4.32], "nice": false, "zero": false}, "axis": {"title": "bits", "values": [0,0.2,0.4,0.6,0.8,1,1.2,1.4,1.6,1.8,2,2.2,2.4,2.6,2.8,3,3.2,3.4,3.6,3.8,4,4.2], "labelExpr": "datum.value % 1 === 0 ? format(datum.value, '.1f') : ''", "tickSize": {"condition": {"test": "datum.value % 1 === 0", "value": 22}, "value": 11}}}}}
]},
{"width": 3600, "height": 225, "layer": [
 {"data": {"name": "S"}, "transform": [{"filter": "datum.p >= 241 && datum.p <= 320"}],
  "mark": {"type": "rule", "color": "black", "strokeWidth": 2},
  "encoding": {
   "x": {"field": "p", "type": "quantitative", "scale": {"domain": [240.5, 320.5], "nice": false, "zero": false}, "axis": {"title": null, "tickCount": 80, "format": "d", "labelExpr": "datum.value % 5 === 0 ? datum.label : ''"}},
   "y": {"field": "h", "type": "quantitative", "scale": {"domain": [0, 4.32], "nice": false, "zero": false}, "axis": {"title": "bits", "values": [0,0.2,0.4,0.6,0.8,1,1.2,1.4,1.6,1.8,2,2.2,2.4,2.6,2.8,3,3.2,3.4,3.6,3.8,4,4.2], "labelExpr": "datum.value % 1 === 0 ? format(datum.value, '.1f') : ''", "tickSize": {"condition": {"test": "datum.value % 1 === 0", "value": 22}, "value": 11}}},
   "y2": {"datum": 0}}},
 {"data": {"name": "L"}, "transform": [{"filter": "datum.p >= 241 && datum.p <= 320"}, {"stack": "b", "groupby": ["p"], "sort": [{"field": "b", "order": "ascending"}], "as": ["y0", "y1"]}],
  "mark": {"type": "text", "baseline": "alphabetic", "align": "center", "font": "Liberation Sans Narrow, DejaVu Sans Condensed, Liberation Sans", "fontWeight": "bold"},
  "encoding": {
   "x": {"field": "p", "type": "quantitative", "scale": {"domain": [240.5, 320.5], "nice": false, "zero": false}, "axis": {"title": null, "tickCount": 80, "format": "d", "labelExpr": "datum.value % 5 === 0 ? datum.label : ''"}},
   "y": {"field": "y0", "type": "quantitative", "scale": {"domain": [0, 4.32], "nice": false, "zero": false}, "axis": {"title": "bits", "values": [0,0.2,0.4,0.6,0.8,1,1.2,1.4,1.6,1.8,2,2.2,2.4,2.6,2.8,3,3.2,3.4,3.6,3.8,4,4.2], "labelExpr": "datum.value % 1 === 0 ? format(datum.value, '.1f') : ''", "tickSize": {"condition": {"test": "datum.value % 1 === 0", "value": 22}, "value": 11}}},
   "text": {"field": "a"},
   "size": {"field": "b", "type": "quantitative", "scale": {"domain": [0, 0.8, 4.5], "range": [0, 58, 128], "clamp": true}, "legend": null},
   "color": {"condition": {"test": "datum.a === 'C'", "value": "red"}, "value": "black"}}},
 {"data": {"name": "E"}, "transform": [{"filter": "datum.p >= 241 && datum.p <= 320"}],
  "mark": {"type": "rule", "color": "#c0c0c0", "strokeWidth": 2},
  "encoding": {
   "x": {"field": "p", "type": "quantitative", "scale": {"domain": [240.5, 320.5], "nice": false, "zero": false}, "axis": {"title": null, "tickCount": 80, "format": "d", "labelExpr": "datum.value % 5 === 0 ? datum.label : ''"}},
   "y": {"field": "lo", "type": "quantitative", "scale": {"domain": [0, 4.32], "nice": false, "zero": false}, "axis": {"title": "bits", "values": [0,0.2,0.4,0.6,0.8,1,1.2,1.4,1.6,1.8,2,2.2,2.4,2.6,2.8,3,3.2,3.4,3.6,3.8,4,4.2], "labelExpr": "datum.value % 1 === 0 ? format(datum.value, '.1f') : ''", "tickSize": {"condition": {"test": "datum.value % 1 === 0", "value": 22}, "value": 11}}},
   "y2": {"field": "hi"}}},
 {"data": {"name": "E"}, "transform": [{"filter": "datum.p >= 241 && datum.p <= 320"}, {"fold": ["lo", "hi"], "as": ["k", "v"]}],
  "mark": {"type": "tick", "orient": "horizontal", "color": "#c0c0c0", "size": 8, "thickness": 3},
  "encoding": {
   "x": {"field": "p", "type": "quantitative", "scale": {"domain": [240.5, 320.5], "nice": false, "zero": false}, "axis": {"title": null, "tickCount": 80, "format": "d", "labelExpr": "datum.value % 5 === 0 ? datum.label : ''"}},
   "y": {"field": "v", "type": "quantitative", "scale": {"domain": [0, 4.32], "nice": false, "zero": false}, "axis": {"title": "bits", "values": [0,0.2,0.4,0.6,0.8,1,1.2,1.4,1.6,1.8,2,2.2,2.4,2.6,2.8,3,3.2,3.4,3.6,3.8,4,4.2], "labelExpr": "datum.value % 1 === 0 ? format(datum.value, '.1f') : ''", "tickSize": {"condition": {"test": "datum.value % 1 === 0", "value": 22}, "value": 11}}}}}
]},
{"width": 3600, "height": 225, "layer": [
 {"data": {"name": "S"}, "transform": [{"filter": "datum.p >= 321 && datum.p <= 400"}],
  "mark": {"type": "rule", "color": "black", "strokeWidth": 2},
  "encoding": {
   "x": {"field": "p", "type": "quantitative", "scale": {"domain": [320.5, 400.5], "nice": false, "zero": false}, "axis": {"title": null, "tickCount": 80, "format": "d", "labelExpr": "datum.value % 5 === 0 ? datum.label : ''"}},
   "y": {"field": "h", "type": "quantitative", "scale": {"domain": [0, 4.32], "nice": false, "zero": false}, "axis": {"title": "bits", "values": [0,0.2,0.4,0.6,0.8,1,1.2,1.4,1.6,1.8,2,2.2,2.4,2.6,2.8,3,3.2,3.4,3.6,3.8,4,4.2], "labelExpr": "datum.value % 1 === 0 ? format(datum.value, '.1f') : ''", "tickSize": {"condition": {"test": "datum.value % 1 === 0", "value": 22}, "value": 11}}},
   "y2": {"datum": 0}}},
 {"data": {"name": "L"}, "transform": [{"filter": "datum.p >= 321 && datum.p <= 400"}, {"stack": "b", "groupby": ["p"], "sort": [{"field": "b", "order": "ascending"}], "as": ["y0", "y1"]}],
  "mark": {"type": "text", "baseline": "alphabetic", "align": "center", "font": "Liberation Sans Narrow, DejaVu Sans Condensed, Liberation Sans", "fontWeight": "bold"},
  "encoding": {
   "x": {"field": "p", "type": "quantitative", "scale": {"domain": [320.5, 400.5], "nice": false, "zero": false}, "axis": {"title": null, "tickCount": 80, "format": "d", "labelExpr": "datum.value % 5 === 0 ? datum.label : ''"}},
   "y": {"field": "y0", "type": "quantitative", "scale": {"domain": [0, 4.32], "nice": false, "zero": false}, "axis": {"title": "bits", "values": [0,0.2,0.4,0.6,0.8,1,1.2,1.4,1.6,1.8,2,2.2,2.4,2.6,2.8,3,3.2,3.4,3.6,3.8,4,4.2], "labelExpr": "datum.value % 1 === 0 ? format(datum.value, '.1f') : ''", "tickSize": {"condition": {"test": "datum.value % 1 === 0", "value": 22}, "value": 11}}},
   "text": {"field": "a"},
   "size": {"field": "b", "type": "quantitative", "scale": {"domain": [0, 0.8, 4.5], "range": [0, 58, 128], "clamp": true}, "legend": null},
   "color": {"condition": {"test": "datum.a === 'C'", "value": "red"}, "value": "black"}}},
 {"data": {"name": "E"}, "transform": [{"filter": "datum.p >= 321 && datum.p <= 400"}],
  "mark": {"type": "rule", "color": "#c0c0c0", "strokeWidth": 2},
  "encoding": {
   "x": {"field": "p", "type": "quantitative", "scale": {"domain": [320.5, 400.5], "nice": false, "zero": false}, "axis": {"title": null, "tickCount": 80, "format": "d", "labelExpr": "datum.value % 5 === 0 ? datum.label : ''"}},
   "y": {"field": "lo", "type": "quantitative", "scale": {"domain": [0, 4.32], "nice": false, "zero": false}, "axis": {"title": "bits", "values": [0,0.2,0.4,0.6,0.8,1,1.2,1.4,1.6,1.8,2,2.2,2.4,2.6,2.8,3,3.2,3.4,3.6,3.8,4,4.2], "labelExpr": "datum.value % 1 === 0 ? format(datum.value, '.1f') : ''", "tickSize": {"condition": {"test": "datum.value % 1 === 0", "value": 22}, "value": 11}}},
   "y2": {"field": "hi"}}},
 {"data": {"name": "E"}, "transform": [{"filter": "datum.p >= 321 && datum.p <= 400"}, {"fold": ["lo", "hi"], "as": ["k", "v"]}],
  "mark": {"type": "tick", "orient": "horizontal", "color": "#c0c0c0", "size": 8, "thickness": 3},
  "encoding": {
   "x": {"field": "p", "type": "quantitative", "scale": {"domain": [320.5, 400.5], "nice": false, "zero": false}, "axis": {"title": null, "tickCount": 80, "format": "d", "labelExpr": "datum.value % 5 === 0 ? datum.label : ''"}},
   "y": {"field": "v", "type": "quantitative", "scale": {"domain": [0, 4.32], "nice": false, "zero": false}, "axis": {"title": "bits", "values": [0,0.2,0.4,0.6,0.8,1,1.2,1.4,1.6,1.8,2,2.2,2.4,2.6,2.8,3,3.2,3.4,3.6,3.8,4,4.2], "labelExpr": "datum.value % 1 === 0 ? format(datum.value, '.1f') : ''", "tickSize": {"condition": {"test": "datum.value % 1 === 0", "value": 22}, "value": 11}}}}}
]},
{"width": 2835, "height": 225, "layer": [
 {"data": {"name": "S"}, "transform": [{"filter": "datum.p >= 401 && datum.p <= 463"}],
  "mark": {"type": "rule", "color": "black", "strokeWidth": 2},
  "encoding": {
   "x": {"field": "p", "type": "quantitative", "scale": {"domain": [400.5, 463.5], "nice": false, "zero": false}, "axis": {"title": null, "tickCount": 63, "format": "d", "labelExpr": "datum.value % 5 === 0 ? datum.label : ''"}},
   "y": {"field": "h", "type": "quantitative", "scale": {"domain": [0, 4.32], "nice": false, "zero": false}, "axis": {"title": "bits", "values": [0,0.2,0.4,0.6,0.8,1,1.2,1.4,1.6,1.8,2,2.2,2.4,2.6,2.8,3,3.2,3.4,3.6,3.8,4,4.2], "labelExpr": "datum.value % 1 === 0 ? format(datum.value, '.1f') : ''", "tickSize": {"condition": {"test": "datum.value % 1 === 0", "value": 22}, "value": 11}}},
   "y2": {"datum": 0}}},
 {"data": {"name": "R"},
  "mark": {"type": "rule", "color": "red", "strokeWidth": 2},
  "encoding": {
   "x": {"field": "p", "type": "quantitative", "scale": {"domain": [400.5, 463.5], "nice": false, "zero": false}, "axis": {"title": null, "tickCount": 63, "format": "d", "labelExpr": "datum.value % 5 === 0 ? datum.label : ''"}},
   "y": {"field": "lo", "type": "quantitative", "scale": {"domain": [0, 4.32], "nice": false, "zero": false}, "axis": {"title": "bits", "values": [0,0.2,0.4,0.6,0.8,1,1.2,1.4,1.6,1.8,2,2.2,2.4,2.6,2.8,3,3.2,3.4,3.6,3.8,4,4.2], "labelExpr": "datum.value % 1 === 0 ? format(datum.value, '.1f') : ''", "tickSize": {"condition": {"test": "datum.value % 1 === 0", "value": 22}, "value": 11}}},
   "y2": {"field": "hi"}}},
 {"data": {"name": "E"}, "transform": [{"filter": "datum.p >= 401 && datum.p <= 463"}],
  "mark": {"type": "rule", "color": "#c0c0c0", "strokeWidth": 2},
  "encoding": {
   "x": {"field": "p", "type": "quantitative", "scale": {"domain": [400.5, 463.5], "nice": false, "zero": false}, "axis": {"title": null, "tickCount": 63, "format": "d", "labelExpr": "datum.value % 5 === 0 ? datum.label : ''"}},
   "y": {"field": "lo", "type": "quantitative", "scale": {"domain": [0, 4.32], "nice": false, "zero": false}, "axis": {"title": "bits", "values": [0,0.2,0.4,0.6,0.8,1,1.2,1.4,1.6,1.8,2,2.2,2.4,2.6,2.8,3,3.2,3.4,3.6,3.8,4,4.2], "labelExpr": "datum.value % 1 === 0 ? format(datum.value, '.1f') : ''", "tickSize": {"condition": {"test": "datum.value % 1 === 0", "value": 22}, "value": 11}}},
   "y2": {"field": "hi"}}},
 {"data": {"name": "E"}, "transform": [{"filter": "datum.p >= 401 && datum.p <= 463"}, {"fold": ["lo", "hi"], "as": ["k", "v"]}],
  "mark": {"type": "tick", "orient": "horizontal", "color": "#c0c0c0", "size": 8, "thickness": 3},
  "encoding": {
   "x": {"field": "p", "type": "quantitative", "scale": {"domain": [400.5, 463.5], "nice": false, "zero": false}, "axis": {"title": null, "tickCount": 63, "format": "d", "labelExpr": "datum.value % 5 === 0 ? datum.label : ''"}},
   "y": {"field": "v", "type": "quantitative", "scale": {"domain": [0, 4.32], "nice": false, "zero": false}, "axis": {"title": "bits", "values": [0,0.2,0.4,0.6,0.8,1,1.2,1.4,1.6,1.8,2,2.2,2.4,2.6,2.8,3,3.2,3.4,3.6,3.8,4,4.2], "labelExpr": "datum.value % 1 === 0 ? format(datum.value, '.1f') : ''", "tickSize": {"condition": {"test": "datum.value % 1 === 0", "value": 22}, "value": 11}}}}}
]}
]
}
